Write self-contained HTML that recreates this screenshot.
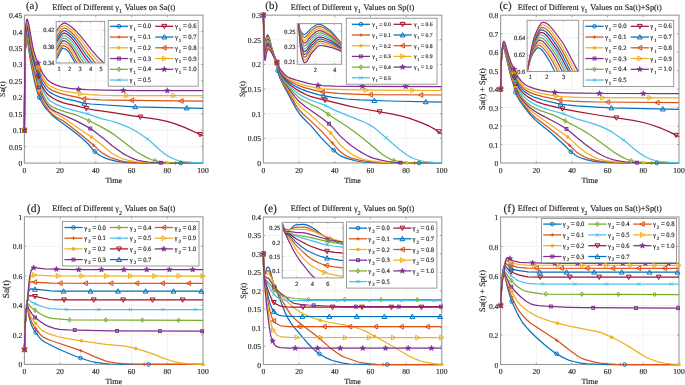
<!DOCTYPE html>
<html><head><meta charset="utf-8"><style>
html,body{margin:0;padding:0;background:#fff;}
svg{display:block;will-change:transform;}
svg text{text-rendering:geometricPrecision;stroke:#262626;stroke-width:0.15px;}
</style></head><body>
<svg width="685" height="385" viewBox="0 0 685 385" font-family='"Liberation Serif", serif' fill="#262626" stroke-width="0">
<rect width="685" height="385" fill="#fff"/>
<line x1="60.12" y1="15.15" x2="60.12" y2="163.1" stroke="#efefef" stroke-width="0.8"/>
<line x1="95.84" y1="15.15" x2="95.84" y2="163.1" stroke="#efefef" stroke-width="0.8"/>
<line x1="131.56" y1="15.15" x2="131.56" y2="163.1" stroke="#efefef" stroke-width="0.8"/>
<line x1="167.28" y1="15.15" x2="167.28" y2="163.1" stroke="#efefef" stroke-width="0.8"/>
<line x1="24.4" y1="146.66" x2="203" y2="146.66" stroke="#efefef" stroke-width="0.8"/>
<line x1="24.4" y1="130.22" x2="203" y2="130.22" stroke="#efefef" stroke-width="0.8"/>
<line x1="24.4" y1="113.78" x2="203" y2="113.78" stroke="#efefef" stroke-width="0.8"/>
<line x1="24.4" y1="97.34" x2="203" y2="97.34" stroke="#efefef" stroke-width="0.8"/>
<line x1="24.4" y1="80.91" x2="203" y2="80.91" stroke="#efefef" stroke-width="0.8"/>
<line x1="24.4" y1="64.47" x2="203" y2="64.47" stroke="#efefef" stroke-width="0.8"/>
<line x1="24.4" y1="48.03" x2="203" y2="48.03" stroke="#efefef" stroke-width="0.8"/>
<line x1="24.4" y1="31.59" x2="203" y2="31.59" stroke="#efefef" stroke-width="0.8"/>
<line x1="299.03" y1="15.15" x2="299.03" y2="163" stroke="#efefef" stroke-width="0.8"/>
<line x1="334.71" y1="15.15" x2="334.71" y2="163" stroke="#efefef" stroke-width="0.8"/>
<line x1="370.39" y1="15.15" x2="370.39" y2="163" stroke="#efefef" stroke-width="0.8"/>
<line x1="406.07" y1="15.15" x2="406.07" y2="163" stroke="#efefef" stroke-width="0.8"/>
<line x1="263.35" y1="138.36" x2="441.75" y2="138.36" stroke="#efefef" stroke-width="0.8"/>
<line x1="263.35" y1="113.72" x2="441.75" y2="113.72" stroke="#efefef" stroke-width="0.8"/>
<line x1="263.35" y1="89.07" x2="441.75" y2="89.07" stroke="#efefef" stroke-width="0.8"/>
<line x1="263.35" y1="64.43" x2="441.75" y2="64.43" stroke="#efefef" stroke-width="0.8"/>
<line x1="263.35" y1="39.79" x2="441.75" y2="39.79" stroke="#efefef" stroke-width="0.8"/>
<line x1="536.28" y1="15.2" x2="536.28" y2="163" stroke="#efefef" stroke-width="0.8"/>
<line x1="571.96" y1="15.2" x2="571.96" y2="163" stroke="#efefef" stroke-width="0.8"/>
<line x1="607.64" y1="15.2" x2="607.64" y2="163" stroke="#efefef" stroke-width="0.8"/>
<line x1="643.32" y1="15.2" x2="643.32" y2="163" stroke="#efefef" stroke-width="0.8"/>
<line x1="500.6" y1="144.53" x2="679" y2="144.53" stroke="#efefef" stroke-width="0.8"/>
<line x1="500.6" y1="126.05" x2="679" y2="126.05" stroke="#efefef" stroke-width="0.8"/>
<line x1="500.6" y1="107.57" x2="679" y2="107.57" stroke="#efefef" stroke-width="0.8"/>
<line x1="500.6" y1="89.1" x2="679" y2="89.1" stroke="#efefef" stroke-width="0.8"/>
<line x1="500.6" y1="70.62" x2="679" y2="70.62" stroke="#efefef" stroke-width="0.8"/>
<line x1="500.6" y1="52.15" x2="679" y2="52.15" stroke="#efefef" stroke-width="0.8"/>
<line x1="500.6" y1="33.67" x2="679" y2="33.67" stroke="#efefef" stroke-width="0.8"/>
<line x1="60.12" y1="216.8" x2="60.12" y2="364.4" stroke="#efefef" stroke-width="0.8"/>
<line x1="95.84" y1="216.8" x2="95.84" y2="364.4" stroke="#efefef" stroke-width="0.8"/>
<line x1="131.56" y1="216.8" x2="131.56" y2="364.4" stroke="#efefef" stroke-width="0.8"/>
<line x1="167.28" y1="216.8" x2="167.28" y2="364.4" stroke="#efefef" stroke-width="0.8"/>
<line x1="24.4" y1="334.88" x2="203" y2="334.88" stroke="#efefef" stroke-width="0.8"/>
<line x1="24.4" y1="305.36" x2="203" y2="305.36" stroke="#efefef" stroke-width="0.8"/>
<line x1="24.4" y1="275.84" x2="203" y2="275.84" stroke="#efefef" stroke-width="0.8"/>
<line x1="24.4" y1="246.32" x2="203" y2="246.32" stroke="#efefef" stroke-width="0.8"/>
<line x1="299.03" y1="217" x2="299.03" y2="364.5" stroke="#efefef" stroke-width="0.8"/>
<line x1="334.71" y1="217" x2="334.71" y2="364.5" stroke="#efefef" stroke-width="0.8"/>
<line x1="370.39" y1="217" x2="370.39" y2="364.5" stroke="#efefef" stroke-width="0.8"/>
<line x1="406.07" y1="217" x2="406.07" y2="364.5" stroke="#efefef" stroke-width="0.8"/>
<line x1="263.35" y1="346.06" x2="441.75" y2="346.06" stroke="#efefef" stroke-width="0.8"/>
<line x1="263.35" y1="327.62" x2="441.75" y2="327.62" stroke="#efefef" stroke-width="0.8"/>
<line x1="263.35" y1="309.19" x2="441.75" y2="309.19" stroke="#efefef" stroke-width="0.8"/>
<line x1="263.35" y1="290.75" x2="441.75" y2="290.75" stroke="#efefef" stroke-width="0.8"/>
<line x1="263.35" y1="272.31" x2="441.75" y2="272.31" stroke="#efefef" stroke-width="0.8"/>
<line x1="263.35" y1="253.88" x2="441.75" y2="253.88" stroke="#efefef" stroke-width="0.8"/>
<line x1="263.35" y1="235.44" x2="441.75" y2="235.44" stroke="#efefef" stroke-width="0.8"/>
<line x1="536.28" y1="217" x2="536.28" y2="364.5" stroke="#efefef" stroke-width="0.8"/>
<line x1="571.96" y1="217" x2="571.96" y2="364.5" stroke="#efefef" stroke-width="0.8"/>
<line x1="607.64" y1="217" x2="607.64" y2="364.5" stroke="#efefef" stroke-width="0.8"/>
<line x1="643.32" y1="217" x2="643.32" y2="364.5" stroke="#efefef" stroke-width="0.8"/>
<line x1="500.6" y1="335" x2="679" y2="335" stroke="#efefef" stroke-width="0.8"/>
<line x1="500.6" y1="305.5" x2="679" y2="305.5" stroke="#efefef" stroke-width="0.8"/>
<line x1="500.6" y1="276" x2="679" y2="276" stroke="#efefef" stroke-width="0.8"/>
<line x1="500.6" y1="246.5" x2="679" y2="246.5" stroke="#efefef" stroke-width="0.8"/>
<rect x="24.4" y="15.15" width="178.6" height="147.95" fill="none" stroke="#9a9a9a" stroke-width="1.1"/>
<path d="M60.12 163.1v-1.8M60.12 15.15v1.8M95.84 163.1v-1.8M95.84 15.15v1.8M131.56 163.1v-1.8M131.56 15.15v1.8M167.28 163.1v-1.8M167.28 15.15v1.8M24.4 146.66h1.8M203 146.66h-1.8M24.4 130.22h1.8M203 130.22h-1.8M24.4 113.78h1.8M203 113.78h-1.8M24.4 97.34h1.8M203 97.34h-1.8M24.4 80.91h1.8M203 80.91h-1.8M24.4 64.47h1.8M203 64.47h-1.8M24.4 48.03h1.8M203 48.03h-1.8M24.4 31.59h1.8M203 31.59h-1.8" stroke="#9a9a9a" stroke-width="0.9" fill="none"/>
<text x="24.4" y="172.6" font-size="7.6" text-anchor="middle">0</text>
<text x="60.12" y="172.6" font-size="7.6" text-anchor="middle">20</text>
<text x="95.84" y="172.6" font-size="7.6" text-anchor="middle">40</text>
<text x="131.56" y="172.6" font-size="7.6" text-anchor="middle">60</text>
<text x="167.28" y="172.6" font-size="7.6" text-anchor="middle">80</text>
<text x="203" y="172.6" font-size="7.6" text-anchor="middle">100</text>
<text x="22.2" y="166.1" font-size="7.6" text-anchor="end">0</text>
<text x="22.2" y="149.66" font-size="7.6" text-anchor="end">0.05</text>
<text x="22.2" y="133.22" font-size="7.6" text-anchor="end">0.1</text>
<text x="22.2" y="116.78" font-size="7.6" text-anchor="end">0.15</text>
<text x="22.2" y="100.34" font-size="7.6" text-anchor="end">0.2</text>
<text x="22.2" y="83.91" font-size="7.6" text-anchor="end">0.25</text>
<text x="22.2" y="67.47" font-size="7.6" text-anchor="end">0.3</text>
<text x="22.2" y="51.03" font-size="7.6" text-anchor="end">0.35</text>
<text x="22.2" y="34.59" font-size="7.6" text-anchor="end">0.4</text>
<text x="22.2" y="18.15" font-size="7.6" text-anchor="end">0.45</text>
<text x="113.7" y="182.7" font-size="8" text-anchor="middle">Time</text>
<text transform="translate(5.4 89.12) rotate(-90)" font-size="8.0" text-anchor="middle">Sa(t)</text>
<text x="113.7" y="9.55" font-size="8.25" text-anchor="middle">Effect of Different &#947;<tspan font-size="5.8" dy="3.4">1</tspan><tspan dx="0.8" dy="-3.4"> Values on Sa(t)</tspan></text>
<text x="26" y="8.75" font-size="10.8">(a)</text>
<rect x="263.35" y="15.15" width="178.4" height="147.85" fill="none" stroke="#9a9a9a" stroke-width="1.1"/>
<path d="M299.03 163v-1.8M299.03 15.15v1.8M334.71 163v-1.8M334.71 15.15v1.8M370.39 163v-1.8M370.39 15.15v1.8M406.07 163v-1.8M406.07 15.15v1.8M263.35 138.36h1.8M441.75 138.36h-1.8M263.35 113.72h1.8M441.75 113.72h-1.8M263.35 89.07h1.8M441.75 89.07h-1.8M263.35 64.43h1.8M441.75 64.43h-1.8M263.35 39.79h1.8M441.75 39.79h-1.8" stroke="#9a9a9a" stroke-width="0.9" fill="none"/>
<text x="263.35" y="172.5" font-size="7.6" text-anchor="middle">0</text>
<text x="299.03" y="172.5" font-size="7.6" text-anchor="middle">20</text>
<text x="334.71" y="172.5" font-size="7.6" text-anchor="middle">40</text>
<text x="370.39" y="172.5" font-size="7.6" text-anchor="middle">60</text>
<text x="406.07" y="172.5" font-size="7.6" text-anchor="middle">80</text>
<text x="441.75" y="172.5" font-size="7.6" text-anchor="middle">100</text>
<text x="261.15" y="166" font-size="7.6" text-anchor="end">0</text>
<text x="261.15" y="141.36" font-size="7.6" text-anchor="end">0.05</text>
<text x="261.15" y="116.72" font-size="7.6" text-anchor="end">0.1</text>
<text x="261.15" y="92.07" font-size="7.6" text-anchor="end">0.15</text>
<text x="261.15" y="67.43" font-size="7.6" text-anchor="end">0.2</text>
<text x="261.15" y="42.79" font-size="7.6" text-anchor="end">0.25</text>
<text x="261.15" y="18.15" font-size="7.6" text-anchor="end">0.3</text>
<text x="352.55" y="182.6" font-size="8" text-anchor="middle">Time</text>
<text transform="translate(244.75 89.08) rotate(-90)" font-size="8.0" text-anchor="middle">Sp(t)</text>
<text x="352.55" y="9.55" font-size="8.25" text-anchor="middle">Effect of Different &#947;<tspan font-size="5.8" dy="3.4">1</tspan><tspan dx="0.8" dy="-3.4"> Values on Sp(t)</tspan></text>
<text x="265.3" y="8.75" font-size="10.8">(b)</text>
<rect x="500.6" y="15.2" width="178.4" height="147.8" fill="none" stroke="#9a9a9a" stroke-width="1.1"/>
<path d="M536.28 163v-1.8M536.28 15.2v1.8M571.96 163v-1.8M571.96 15.2v1.8M607.64 163v-1.8M607.64 15.2v1.8M643.32 163v-1.8M643.32 15.2v1.8M500.6 144.53h1.8M679 144.53h-1.8M500.6 126.05h1.8M679 126.05h-1.8M500.6 107.57h1.8M679 107.57h-1.8M500.6 89.1h1.8M679 89.1h-1.8M500.6 70.62h1.8M679 70.62h-1.8M500.6 52.15h1.8M679 52.15h-1.8M500.6 33.67h1.8M679 33.67h-1.8" stroke="#9a9a9a" stroke-width="0.9" fill="none"/>
<text x="500.6" y="172.5" font-size="7.6" text-anchor="middle">0</text>
<text x="536.28" y="172.5" font-size="7.6" text-anchor="middle">20</text>
<text x="571.96" y="172.5" font-size="7.6" text-anchor="middle">40</text>
<text x="607.64" y="172.5" font-size="7.6" text-anchor="middle">60</text>
<text x="643.32" y="172.5" font-size="7.6" text-anchor="middle">80</text>
<text x="679" y="172.5" font-size="7.6" text-anchor="middle">100</text>
<text x="498.4" y="166" font-size="7.6" text-anchor="end">0</text>
<text x="498.4" y="147.53" font-size="7.6" text-anchor="end">0.1</text>
<text x="498.4" y="129.05" font-size="7.6" text-anchor="end">0.2</text>
<text x="498.4" y="110.57" font-size="7.6" text-anchor="end">0.3</text>
<text x="498.4" y="92.1" font-size="7.6" text-anchor="end">0.4</text>
<text x="498.4" y="73.62" font-size="7.6" text-anchor="end">0.5</text>
<text x="498.4" y="55.15" font-size="7.6" text-anchor="end">0.6</text>
<text x="498.4" y="36.67" font-size="7.6" text-anchor="end">0.7</text>
<text x="498.4" y="18.2" font-size="7.6" text-anchor="end">0.8</text>
<text x="589.8" y="182.6" font-size="8" text-anchor="middle">Time</text>
<text transform="translate(484.6 89.1) rotate(-90)" font-size="8.4" text-anchor="middle">Sa(t) + Sp(t)</text>
<text x="589.8" y="9.6" font-size="8.25" text-anchor="middle">Effect of Different &#947;<tspan font-size="5.8" dy="3.4">1</tspan><tspan dx="0.8" dy="-3.4"> Values on Sa(t)+Sp(t)</tspan></text>
<text x="499.5" y="8.8" font-size="10.8">(c)</text>
<rect x="24.4" y="216.8" width="178.6" height="147.6" fill="none" stroke="#9a9a9a" stroke-width="1.1"/>
<path d="M60.12 364.4v-1.8M60.12 216.8v1.8M95.84 364.4v-1.8M95.84 216.8v1.8M131.56 364.4v-1.8M131.56 216.8v1.8M167.28 364.4v-1.8M167.28 216.8v1.8M24.4 334.88h1.8M203 334.88h-1.8M24.4 305.36h1.8M203 305.36h-1.8M24.4 275.84h1.8M203 275.84h-1.8M24.4 246.32h1.8M203 246.32h-1.8" stroke="#9a9a9a" stroke-width="0.9" fill="none"/>
<text x="24.4" y="373.9" font-size="7.6" text-anchor="middle">0</text>
<text x="60.12" y="373.9" font-size="7.6" text-anchor="middle">20</text>
<text x="95.84" y="373.9" font-size="7.6" text-anchor="middle">40</text>
<text x="131.56" y="373.9" font-size="7.6" text-anchor="middle">60</text>
<text x="167.28" y="373.9" font-size="7.6" text-anchor="middle">80</text>
<text x="203" y="373.9" font-size="7.6" text-anchor="middle">100</text>
<text x="22.2" y="367.4" font-size="7.6" text-anchor="end">0</text>
<text x="22.2" y="337.88" font-size="7.6" text-anchor="end">0.2</text>
<text x="22.2" y="308.36" font-size="7.6" text-anchor="end">0.4</text>
<text x="22.2" y="278.84" font-size="7.6" text-anchor="end">0.6</text>
<text x="22.2" y="249.32" font-size="7.6" text-anchor="end">0.8</text>
<text x="22.2" y="219.8" font-size="7.6" text-anchor="end">1</text>
<text x="113.7" y="384" font-size="8" text-anchor="middle">Time</text>
<text transform="translate(9.4 289.2) rotate(-90)" font-size="9.3" text-anchor="middle">Sa(t)</text>
<text x="113.7" y="211.2" font-size="8.25" text-anchor="middle">Effect of Different &#947;<tspan font-size="5.8" dy="3.4">2</tspan><tspan dx="0.8" dy="-3.4"> Values on Sa(t)</tspan></text>
<text x="27" y="211.9" font-size="11.5">(d)</text>
<rect x="263.35" y="217" width="178.4" height="147.5" fill="none" stroke="#9a9a9a" stroke-width="1.1"/>
<path d="M299.03 364.5v-1.8M299.03 217v1.8M334.71 364.5v-1.8M334.71 217v1.8M370.39 364.5v-1.8M370.39 217v1.8M406.07 364.5v-1.8M406.07 217v1.8M263.35 346.06h1.8M441.75 346.06h-1.8M263.35 327.62h1.8M441.75 327.62h-1.8M263.35 309.19h1.8M441.75 309.19h-1.8M263.35 290.75h1.8M441.75 290.75h-1.8M263.35 272.31h1.8M441.75 272.31h-1.8M263.35 253.88h1.8M441.75 253.88h-1.8M263.35 235.44h1.8M441.75 235.44h-1.8" stroke="#9a9a9a" stroke-width="0.9" fill="none"/>
<text x="263.35" y="374" font-size="7.6" text-anchor="middle">0</text>
<text x="299.03" y="374" font-size="7.6" text-anchor="middle">20</text>
<text x="334.71" y="374" font-size="7.6" text-anchor="middle">40</text>
<text x="370.39" y="374" font-size="7.6" text-anchor="middle">60</text>
<text x="406.07" y="374" font-size="7.6" text-anchor="middle">80</text>
<text x="441.75" y="374" font-size="7.6" text-anchor="middle">100</text>
<text x="261.15" y="367.5" font-size="7.6" text-anchor="end">0</text>
<text x="261.15" y="349.06" font-size="7.6" text-anchor="end">0.05</text>
<text x="261.15" y="330.62" font-size="7.6" text-anchor="end">0.1</text>
<text x="261.15" y="312.19" font-size="7.6" text-anchor="end">0.15</text>
<text x="261.15" y="293.75" font-size="7.6" text-anchor="end">0.2</text>
<text x="261.15" y="275.31" font-size="7.6" text-anchor="end">0.25</text>
<text x="261.15" y="256.88" font-size="7.6" text-anchor="end">0.3</text>
<text x="261.15" y="238.44" font-size="7.6" text-anchor="end">0.35</text>
<text x="261.15" y="220" font-size="7.6" text-anchor="end">0.4</text>
<text x="352.55" y="384.1" font-size="8" text-anchor="middle">Time</text>
<text transform="translate(245.75 290.75) rotate(-90)" font-size="8.0" text-anchor="middle">Sp(t)</text>
<text x="352.55" y="211.4" font-size="8.25" text-anchor="middle">Effect of Different &#947;<tspan font-size="5.8" dy="3.4">2</tspan><tspan dx="0.8" dy="-3.4"> Values on Sp(t)</tspan></text>
<text x="264.2" y="212.1" font-size="11.5">(e)</text>
<rect x="500.6" y="217" width="178.4" height="147.5" fill="none" stroke="#9a9a9a" stroke-width="1.1"/>
<path d="M536.28 364.5v-1.8M536.28 217v1.8M571.96 364.5v-1.8M571.96 217v1.8M607.64 364.5v-1.8M607.64 217v1.8M643.32 364.5v-1.8M643.32 217v1.8M500.6 335h1.8M679 335h-1.8M500.6 305.5h1.8M679 305.5h-1.8M500.6 276h1.8M679 276h-1.8M500.6 246.5h1.8M679 246.5h-1.8" stroke="#9a9a9a" stroke-width="0.9" fill="none"/>
<text x="500.6" y="374" font-size="7.6" text-anchor="middle">0</text>
<text x="536.28" y="374" font-size="7.6" text-anchor="middle">20</text>
<text x="571.96" y="374" font-size="7.6" text-anchor="middle">40</text>
<text x="607.64" y="374" font-size="7.6" text-anchor="middle">60</text>
<text x="643.32" y="374" font-size="7.6" text-anchor="middle">80</text>
<text x="679" y="374" font-size="7.6" text-anchor="middle">100</text>
<text x="498.4" y="367.5" font-size="7.6" text-anchor="end">0</text>
<text x="498.4" y="338" font-size="7.6" text-anchor="end">0.2</text>
<text x="498.4" y="308.5" font-size="7.6" text-anchor="end">0.4</text>
<text x="498.4" y="279" font-size="7.6" text-anchor="end">0.6</text>
<text x="498.4" y="249.5" font-size="7.6" text-anchor="end">0.8</text>
<text x="498.4" y="220" font-size="7.6" text-anchor="end">1</text>
<text x="589.8" y="384.1" font-size="8" text-anchor="middle">Time</text>
<text transform="translate(485.2 291.05) rotate(-90)" font-size="8.4" text-anchor="middle">Sa(t) + Sp(t)</text>
<text x="589.8" y="211.4" font-size="8.25" text-anchor="middle">Effect of Different &#947;<tspan font-size="5.8" dy="3.4">2</tspan><tspan dx="0.8" dy="-3.4"> Values on Sa(t)+Sp(t)</tspan></text>
<text x="503.5" y="212.1" font-size="11.5">(f)</text>
<path d="M24.4 130.2L24.7 81.1L25.1 53L25.2 50.2L25.9 47.6L26.6 40.8L26.9 39.6L27.3 40.2L27.8 42.1L28.9 51L30.9 63.1L33.3 75.6L35.5 85.5L37.1 91.4L38.6 95.9L40.5 100L42.8 104L44.8 107L47.1 109.9L53 116L56.4 118.7L72.8 130.7L79.9 136.4L84.6 140.5L88.7 144.5L94.4 151.3L98.5 154.6L100.8 156L103.2 157.2L106.6 158.6L109.8 159.7L117.1 161.3L124.6 162.3L133.3 162.8L141.7 163L203 163.1" fill="none" stroke="#0072BD" stroke-width="1.25" stroke-linejoin="round"/>
<path d="M24.4 130.2L24.7 80L25.1 50.7L25.3 47.9L25.8 45.4L26.6 38.8L26.9 37.5L27.3 38.3L27.9 40.4L29.2 50.9L31.9 66.4L34 76.5L36 84.6L37.6 90L39.1 94L42.2 100.2L45.3 105.6L49.2 110.9L51.4 113.2L53.5 115.1L56.4 117.2L63 120.8L70.7 126.4L87.6 140.1L93.9 145.4L99.1 150.4L101.6 152.5L107.1 155.9L112.1 158.2L120 160.6L123.2 161.4L126.2 161.8L136.2 162.6L146.2 162.9L163.7 163.1L203 163.1" fill="none" stroke="#D95319" stroke-width="1.25" stroke-linejoin="round"/>
<path d="M24.4 130.2L24.7 78.8L25.1 49L25.3 45.7L25.9 42.9L26.6 36.5L26.9 35.5L27.4 36.2L28 38.6L29.6 50.9L33 68.7L35.5 79.7L37.9 87.8L39.1 90.8L41.5 95.7L43.5 99.5L45.7 103L47.8 106L49.9 108.5L52.3 110.9L54.4 112.6L56.5 114L63.7 118.1L76.2 126.8L91.2 136.8L102.1 145L109.1 151.1L111.9 153.3L118.2 156.8L123.5 159.1L128.7 160.4L134.8 161.5L138.9 162L148.3 162.6L165.5 163L203 163.1" fill="none" stroke="#EDB120" stroke-width="1.25" stroke-linejoin="round"/>
<path d="M24.4 130.2L24.7 77.7L25.1 47.3L25.4 43.5L26.6 34.6L27 33.4L27.4 34.3L28.1 36.8L29.8 50.6L32.2 62.5L35 74.2L38.2 85.1L41.1 93.5L43.5 98.8L45.7 102.5L47.6 105.4L49.2 107.2L51.2 108.9L53.5 110.4L56 111.8L75.7 120.6L82.4 124.1L88.3 127.4L92.6 130.1L97.4 133.7L103.3 138.2L111.9 145.4L121.6 152.6L124.4 154.4L127.1 155.8L131.4 157.9L135 159.3L138.3 160.3L143.2 161.3L148.2 162L152.6 162.4L171.6 163.1L203 163.1" fill="none" stroke="#7E2F8E" stroke-width="1.25" stroke-linejoin="round"/>
<path d="M24.4 130.2L24.7 76.6L25.1 45.6L25.4 41.2L26.6 32.7L27 31.4L27.5 32.4L28.2 35.2L30.2 49.8L31.8 57.9L34.3 68.7L37.2 78.8L40.5 88.6L43 94.8L46.9 101.8L48.5 103.9L49.9 105.3L53.3 107.4L57.3 109.1L65.3 111.9L75.1 114.7L79.8 116.5L91.6 122L100.7 126.6L108.7 131.1L114.6 134.9L133.9 149.8L137.3 152.2L145.7 157.1L151 159.5L153.9 160.4L157.5 161.1L163 161.8L168.9 162.3L184.4 163L203 163.1" fill="none" stroke="#77AC30" stroke-width="1.25" stroke-linejoin="round"/>
<path d="M24.4 130.2L24.7 75.5L25.1 43.9L25.5 38.7L26.6 30.8L27 29.3L27.5 30.4L28.3 33.6L30.5 49.2L31.9 55.8L34.4 66.6L37.3 76.2L40.3 84.8L43 90.8L47.1 97.5L48.7 99.5L50.3 101L53 102.8L56 104.4L64.6 107.8L72.8 110.2L87.6 113.8L101.2 118.7L111.2 121L115 122.1L122.1 124.6L129.4 127.7L133.3 129.7L137.6 132.2L146.9 138.6L150.3 141.3L157.8 148.2L166.2 155L168.9 156.6L175 159.5L179.1 160.8L183.5 161.5L192.5 162.3L203 162.8" fill="none" stroke="#4DBEEE" stroke-width="1.25" stroke-linejoin="round"/>
<path d="M24.4 130.2L24.7 74.4L25.1 42.2L25.5 36.4L26.6 28.8L27 27.3L27.6 28.3L28.4 31.8L30.9 48.9L32.6 56.8L35.7 68.1L39.6 79.9L42.4 86.8L44.9 90.9L46.7 93.2L48.5 95L52.6 98L57.8 100.7L63.5 102.9L67.4 103.9L76.6 105.9L86.4 108.5L93.5 109.8L111.4 112.4L129.6 115.4L157.6 119.4L167.1 121.3L174.6 123.6L185.1 127.6L203 135.8" fill="none" stroke="#A2142F" stroke-width="1.25" stroke-linejoin="round"/>
<path d="M24.4 130.2L24.7 73.3L25.1 40.5L25.5 33.8L26.5 26.9L27.1 25.2L27.6 26.3L28.5 29.9L31.3 48.4L32.9 55.5L36 66.5L40.3 78.3L43 84.2L44.8 86.9L46.5 89.2L48.2 90.9L49.6 92.1L52.1 93.6L54.8 95L59.8 97.1L65.8 98.9L76.4 101.2L83.2 103.1L90.7 104L134.2 106.8L203 108.4" fill="none" stroke="#0072BD" stroke-width="1.25" stroke-linejoin="round"/>
<path d="M24.4 130.2L24.7 72.2L25.1 38.1L25.6 31.1L26.5 24.9L27.1 23.2L27.4 23.6L28 25.3L28.7 28.5L31.5 46.8L32.8 52.8L35.6 62.5L39.8 74L42.8 80.5L46.4 85.6L48 87.4L49.4 88.6L54 91.2L59.4 93.1L66.9 95.2L76.7 97.2L82.4 98.6L89.6 99.2L100.3 99.8L112.6 100.1L174.6 100.9L203 101.1" fill="none" stroke="#D95319" stroke-width="1.25" stroke-linejoin="round"/>
<path d="M24.4 130.2L24.7 71.1L25.1 36.4L25.7 28.6L26.5 22.8L27.1 21.1L27.4 21.6L28 23.4L28.9 27L31.9 45.8L33.2 51.6L35.8 60.3L40.5 72.3L43.2 77.8L45.3 81L47.3 83.5L48.7 84.9L49.9 85.8L52.6 87.3L55.3 88.6L59.2 90L63.5 91.1L79.9 93.7L89.8 94.6L99.4 95.2L112.1 95.5L203 95.5" fill="none" stroke="#EDB120" stroke-width="1.25" stroke-linejoin="round"/>
<path d="M24.4 130.2L24.7 70L25.1 34.6L25.7 25.9L26.5 20.7L26.8 19.5L27.1 19.1L27.5 19.6L28.1 21.6L29 25.4L32.4 44.8L33.7 50.9L36 57.9L40.3 68.4L43.2 74.1L45.5 77.4L47.4 79.8L50.1 82L53 83.6L55.8 84.9L61.5 86.8L69.8 88.3L76.6 89.2L86.4 89.7L104.6 90.2L137.5 90.6L203 90.7" fill="none" stroke="#7E2F8E" stroke-width="1.25" stroke-linejoin="round"/>
<circle cx="24.4" cy="130.22" r="1.85" fill="none" stroke="#0072BD" stroke-width="1.0"/>
<circle cx="39.3" cy="97.51" r="1.85" fill="none" stroke="#0072BD" stroke-width="1.0"/>
<circle cx="94.77" cy="151.59" r="1.85" fill="none" stroke="#0072BD" stroke-width="1.0"/>
<circle cx="180.68" cy="163.1" r="1.85" fill="none" stroke="#0072BD" stroke-width="1.0"/>
<path d="M22.72 130.22H26.08M24.4 128.54V131.9" stroke="#D95319" stroke-width="1.0" fill="none"/>
<path d="M37.49 94.06H40.85M39.17 92.38V95.74" stroke="#D95319" stroke-width="1.0" fill="none"/>
<path d="M91.84 145.12H95.2M93.52 143.44V146.8" stroke="#D95319" stroke-width="1.0" fill="none"/>
<path d="M173.64 163.1H177M175.32 161.42V164.78" stroke="#D95319" stroke-width="1.0" fill="none"/>
<circle cx="24.4" cy="130.22" r="1.78" fill="#EDB120"/>
<circle cx="39.06" cy="90.66" r="1.78" fill="#EDB120"/>
<circle cx="91.55" cy="137.09" r="1.78" fill="#EDB120"/>
<circle cx="167.64" cy="163.03" r="1.78" fill="#EDB120"/>
<rect x="22.97" y="128.79" width="2.86" height="2.86" fill="none" stroke="#7E2F8E" stroke-width="1.0"/>
<rect x="37.51" y="85.79" width="2.86" height="2.86" fill="none" stroke="#7E2F8E" stroke-width="1.0"/>
<rect x="88.88" y="127.18" width="2.86" height="2.86" fill="none" stroke="#7E2F8E" stroke-width="1.0"/>
<rect x="159.6" y="161.37" width="2.86" height="2.86" fill="none" stroke="#7E2F8E" stroke-width="1.0"/>
<path d="M24.4 127.91L26.08 130.22L24.4 132.53L22.72 130.22Z" fill="none" stroke="#77AC30" stroke-width="1.0"/>
<path d="M38.81 81.46L40.49 83.77L38.81 86.08L37.13 83.77Z" fill="none" stroke="#77AC30" stroke-width="1.0"/>
<path d="M89.05 118.48L90.73 120.79L89.05 123.1L87.37 120.79Z" fill="none" stroke="#77AC30" stroke-width="1.0"/>
<path d="M155.14 158.39L156.82 160.7L155.14 163.01L153.46 160.7Z" fill="none" stroke="#77AC30" stroke-width="1.0"/>
<path d="M22.82 128.65L25.97 131.8M22.82 131.8L25.97 128.65" stroke="#4DBEEE" stroke-width="1.0" fill="none"/>
<path d="M37.11 78.75L40.26 81.9M37.11 81.9L40.26 78.75" stroke="#4DBEEE" stroke-width="1.0" fill="none"/>
<path d="M86.05 112.21L89.2 115.36M86.05 115.36L89.2 112.21" stroke="#4DBEEE" stroke-width="1.0" fill="none"/>
<path d="M145.88 137.43L149.03 140.58M145.88 140.58L149.03 137.43" stroke="#4DBEEE" stroke-width="1.0" fill="none"/>
<path d="M21.98 128.29L26.81 128.29L24.4 132.64Z" fill="none" stroke="#A2142F" stroke-width="1.0"/>
<path d="M36.17 74.99L41 74.99L38.58 79.34Z" fill="none" stroke="#A2142F" stroke-width="1.0"/>
<path d="M83.96 106.59L88.79 106.59L86.37 110.94Z" fill="none" stroke="#A2142F" stroke-width="1.0"/>
<path d="M137.9 115.07L142.73 115.07L140.31 119.42Z" fill="none" stroke="#A2142F" stroke-width="1.0"/>
<path d="M197.55 132.56L202.38 132.56L199.96 136.91Z" fill="none" stroke="#A2142F" stroke-width="1.0"/>
<path d="M21.98 132.15L26.81 132.15L24.4 127.81Z" fill="none" stroke="#0072BD" stroke-width="1.0"/>
<path d="M36.04 75.41L40.87 75.41L38.46 71.06Z" fill="none" stroke="#0072BD" stroke-width="1.0"/>
<path d="M81.99 105.23L86.82 105.23L84.41 100.88Z" fill="none" stroke="#0072BD" stroke-width="1.0"/>
<path d="M132.9 108.75L137.73 108.75L135.31 104.4Z" fill="none" stroke="#0072BD" stroke-width="1.0"/>
<path d="M184.33 109.83L189.16 109.83L186.75 105.48Z" fill="none" stroke="#0072BD" stroke-width="1.0"/>
<path d="M26.33 127.81L26.33 132.64L21.98 130.22Z" fill="none" stroke="#D95319" stroke-width="1.0"/>
<path d="M40.26 67.62L40.26 72.45L35.92 70.03Z" fill="none" stroke="#D95319" stroke-width="1.0"/>
<path d="M85.81 96.38L85.81 101.21L81.46 98.79Z" fill="none" stroke="#D95319" stroke-width="1.0"/>
<path d="M133.67 97.89L133.67 102.72L129.32 100.3Z" fill="none" stroke="#D95319" stroke-width="1.0"/>
<path d="M183.14 98.58L183.14 103.41L178.8 100.99Z" fill="none" stroke="#D95319" stroke-width="1.0"/>
<path d="M22.47 127.81L22.47 132.64L26.81 130.22Z" fill="none" stroke="#EDB120" stroke-width="1.0"/>
<path d="M36.29 64.22L36.29 69.05L40.64 66.63Z" fill="none" stroke="#EDB120" stroke-width="1.0"/>
<path d="M78.55 91.38L78.55 96.21L82.9 93.79Z" fill="none" stroke="#EDB120" stroke-width="1.0"/>
<path d="M124.63 93.09L124.63 97.92L128.97 95.5Z" fill="none" stroke="#EDB120" stroke-width="1.0"/>
<path d="M171.78 93.09L171.78 97.92L176.12 95.5Z" fill="none" stroke="#EDB120" stroke-width="1.0"/>
<path d="M24.4 127.28L25.13 129.22L27.2 129.31L25.57 130.6L26.13 132.6L24.4 131.46L22.67 132.6L23.23 130.6L21.6 129.31L23.67 129.22Z" fill="#7E2F8E" stroke="#7E2F8E" stroke-width="0.5"/>
<path d="M38.1 60.24L38.82 62.19L40.89 62.28L39.27 63.57L39.83 65.56L38.1 64.42L36.37 65.56L36.92 63.57L35.3 62.28L37.37 62.19Z" fill="#7E2F8E" stroke="#7E2F8E" stroke-width="0.5"/>
<path d="M78.52 86.35L79.24 88.29L81.31 88.38L79.69 89.67L80.24 91.67L78.52 90.52L76.79 91.67L77.34 89.67L75.72 88.38L77.79 88.29Z" fill="#7E2F8E" stroke="#7E2F8E" stroke-width="0.5"/>
<path d="M123.34 87.53L124.07 89.47L126.14 89.56L124.52 90.85L125.07 92.85L123.34 91.71L121.62 92.85L122.17 90.85L120.55 89.56L122.62 89.47Z" fill="#7E2F8E" stroke="#7E2F8E" stroke-width="0.5"/>
<path d="M167.28 87.76L168.01 89.7L170.08 89.79L168.45 91.08L169.01 93.08L167.28 91.94L165.55 93.08L166.11 91.08L164.48 89.79L166.55 89.7Z" fill="#7E2F8E" stroke="#7E2F8E" stroke-width="0.5"/>
<path d="M263.4 15.2L263.8 34.1L264.1 38.5L264.6 41.4L264.8 41.8L265.1 41.4L266.1 37.8L267.3 35.1L267.5 35L267.9 35.1L268.7 36.5L269.9 39.9L271.6 47.1L273.4 53L276.5 61.3L276.9 63.6L277.7 70.8L278.6 74.7L280 78.3L283.3 85.3L288.1 93.7L295.6 107.9L297.8 111.4L299.7 114.1L303.1 118L311.3 126.1L320.4 136.9L325.1 141.9L330.8 147.6L337.9 154L341.1 156.2L346.7 158.4L356.5 161L362.5 162L373.6 162.6L384.7 162.9L441.8 163" fill="none" stroke="#0072BD" stroke-width="1.25" stroke-linejoin="round"/>
<path d="M263.4 15.2L263.8 34.9L264.2 40.2L264.7 43.3L264.9 43.6L265.1 43.2L266.1 39.4L267.3 36.6L267.5 36.4L267.9 36.5L268.7 37.8L269.9 40.9L271.6 47.6L273.5 53.7L276.6 61.7L277.8 68.4L279.8 76.1L281.1 79.7L282.8 83.2L288.1 91.4L296 105.4L299.4 110.2L303 114L311 121.1L321.9 131.6L332.7 143.3L338.3 149.7L340.6 152L346.3 155.9L348.8 157.2L351.3 158.2L357.9 159.9L368.6 161.6L379.8 162.4L389.5 162.8L441.8 163" fill="none" stroke="#D95319" stroke-width="1.25" stroke-linejoin="round"/>
<path d="M263.4 15.2L263.9 36.7L264.2 41.7L264.7 45.2L264.9 45.5L265.2 45.1L266.1 41L267.3 38L267.5 37.8L267.9 37.9L268.7 39.1L270 42L271.7 48.3L273.7 54.4L276.9 62.9L280.7 77.5L281.7 80L283.2 82.6L287.8 89.1L295.3 100.6L299 105.3L302.4 108.6L311.2 115.6L329.7 132L332.7 135.3L339.9 144.5L345.1 149.3L350.8 153.5L354.7 155.9L357.7 157.4L360 158.3L364 159.5L370.7 160.8L381.5 162.1L390.7 162.6L410 163L441.8 163" fill="none" stroke="#EDB120" stroke-width="1.25" stroke-linejoin="round"/>
<path d="M263.4 15.2L264 39.2L264.2 43.2L264.7 47.1L264.9 47.3L265.2 46.8L266.2 42.6L267.3 39.5L267.5 39.2L267.9 39.2L268.7 40.2L270 43.2L273.8 55.2L276.9 62.7L280.7 76.5L281.7 78.9L283.2 81.3L294.7 96.6L299.2 101.6L304.9 106.3L321.3 117.7L327.9 122.8L331.5 126.2L340.1 135.9L346.7 141.9L351.5 145.7L356.5 149.2L361.8 152.6L366.6 155.3L369.9 156.9L373.2 158.1L382 160.4L388.2 161.5L395.2 162.3L400.4 162.7L441.8 163" fill="none" stroke="#7E2F8E" stroke-width="1.25" stroke-linejoin="round"/>
<path d="M263.4 15.2L264.1 41.6L264.4 46.3L264.8 49.1L265 49.2L265.2 48.6L266.2 44.3L267.2 41.1L267.7 40.5L268.4 41.1L270 44.1L273.7 55L276.8 62.4L280 73.7L281.4 77.1L283 79.8L284.8 82.2L293.9 92.8L298 96.9L300.6 98.8L303.8 100.7L319 108.3L322.2 110L329.2 114.9L347.4 126.7L354.7 131.9L362.5 137.9L375.2 148.6L381.8 153.9L387 157.3L390.9 159.4L393.4 160.4L396.8 161L402 161.8L407.3 162.3L421.1 162.9L441.8 163" fill="none" stroke="#77AC30" stroke-width="1.25" stroke-linejoin="round"/>
<path d="M263.4 15.2L264.1 43.3L264.4 48.3L264.8 51L265 51L265.2 50.4L266.2 45.8L267.2 42.5L267.7 41.9L268.5 42.5L270 45.3L273.8 55.6L276.8 62.4L279.9 72.7L281.2 75.8L283 78.6L285.3 81.5L290.8 87.2L295.1 91.1L298 93.3L300.8 95.1L304.4 97.1L308.1 98.9L312.9 101L322.8 104.3L335.1 110.4L362.2 121.3L366.6 123.3L370.6 125.4L374 127.6L377.9 130.7L398.9 149L407 155L411.4 157.7L413.4 158.5L417.8 160L424.1 161.5L433.4 162.4L441.8 162.8" fill="none" stroke="#4DBEEE" stroke-width="1.25" stroke-linejoin="round"/>
<path d="M263.4 15.2L264.1 45.2L264.8 52.9L265 52.9L265.3 52.2L266.2 47.4L267.2 44L267.7 43.3L268.5 43.8L270.1 46.5L273.9 56.2L276.7 62.3L280 72L281.4 75L283.7 78.3L286.4 81.2L291.4 85.7L296.2 89.3L300.6 91.9L305.8 94.5L310.4 96.4L314.9 97.7L349.2 106.2L358.1 108L392.7 114.2L400.5 115.9L408.9 118.2L419.3 121.8L427.7 125.3L435.1 129.4L441.8 133.9" fill="none" stroke="#A2142F" stroke-width="1.25" stroke-linejoin="round"/>
<path d="M263.4 15.2L264.2 46.8L264.5 52.4L264.9 54.8L265.1 54.7L265.3 54.1L266.2 49L267.2 45.5L267.7 44.7L268.4 45.1L269.7 46.8L270.5 48.2L274 56.7L277 62.8L280.3 71.9L281.9 74.8L284.8 78.2L288.9 81.8L293.7 85.2L298.5 87.9L302.6 89.7L307.2 91.4L313.7 93.4L319 94.8L332.7 97.3L345.6 99L359.9 99.9L388.9 101L441.8 102.1" fill="none" stroke="#0072BD" stroke-width="1.25" stroke-linejoin="round"/>
<path d="M263.4 15.2L264.2 48.4L264.9 56.6L265.1 56.6L265.3 55.9L266.2 50.7L267.2 47L267.7 46.1L268.5 46.5L269.8 48L270.8 49.8L274.1 57L277 62.8L280.2 70.9L281.9 73.7L284.6 76.8L287.6 79.4L291.7 82.1L296.4 84.5L300.8 86.3L305.5 87.9L316.9 90.8L325.1 92.2L337.9 93.4L352.6 94.1L368.4 94.6L441.8 95" fill="none" stroke="#D95319" stroke-width="1.25" stroke-linejoin="round"/>
<path d="M263.4 15.2L264.2 49.6L264.5 55.8L264.9 58.5L265.1 58.5L265.3 57.8L266.3 52.2L267.3 48.4L267.8 47.5L268.6 47.8L270.1 49.5L271.8 52.4L274.1 57.3L277 62.9L280 69.5L281.5 72.1L284 75.1L286.7 77.6L289.9 79.6L293.7 81.4L300.3 83.8L306.9 85.8L317.4 88.2L322.6 88.9L334.4 89.3L367.4 90.1L441.8 90.5" fill="none" stroke="#EDB120" stroke-width="1.25" stroke-linejoin="round"/>
<path d="M263.4 15.2L264.2 51.3L264.6 57.7L264.9 60.4L265.1 60.3L265.3 59.6L266.3 53.8L267.3 49.8L267.8 48.9L268.7 49.2L270.3 50.7L271.9 53.1L274.1 57.7L277 62.7L279.9 68.5L281.1 70.5L283.7 73.5L286 75.7L288 77L291 78.4L295.5 79.9L308.1 83.4L316.3 85L322 85.6L334.9 86.1L350.8 86.3L441.8 86.5" fill="none" stroke="#7E2F8E" stroke-width="1.25" stroke-linejoin="round"/>
<circle cx="263.35" cy="15.15" r="1.85" fill="none" stroke="#0072BD" stroke-width="1.0"/>
<circle cx="277.69" cy="70.73" r="1.85" fill="none" stroke="#0072BD" stroke-width="1.0"/>
<circle cx="333.64" cy="150.19" r="1.85" fill="none" stroke="#0072BD" stroke-width="1.0"/>
<circle cx="419.09" cy="162.98" r="1.85" fill="none" stroke="#0072BD" stroke-width="1.0"/>
<path d="M261.67 15.15H265.03M263.35 13.47V16.83" stroke="#D95319" stroke-width="1.0" fill="none"/>
<path d="M275.94 67.48H279.3M277.62 65.8V69.16" stroke="#D95319" stroke-width="1.0" fill="none"/>
<path d="M330.71 142.89H334.07M332.39 141.21V144.57" stroke="#D95319" stroke-width="1.0" fill="none"/>
<path d="M412.95 162.96H416.31M414.63 161.28V164.64" stroke="#D95319" stroke-width="1.0" fill="none"/>
<circle cx="263.35" cy="15.15" r="1.78" fill="#EDB120"/>
<circle cx="277.44" cy="64.75" r="1.78" fill="#EDB120"/>
<circle cx="330.79" cy="133.09" r="1.78" fill="#EDB120"/>
<circle cx="406.96" cy="162.95" r="1.78" fill="#EDB120"/>
<rect x="261.92" y="13.72" width="2.86" height="2.86" fill="none" stroke="#7E2F8E" stroke-width="1.0"/>
<rect x="275.84" y="62.57" width="2.86" height="2.86" fill="none" stroke="#7E2F8E" stroke-width="1.0"/>
<rect x="327.57" y="122.31" width="2.86" height="2.86" fill="none" stroke="#7E2F8E" stroke-width="1.0"/>
<rect x="398.93" y="161.26" width="2.86" height="2.86" fill="none" stroke="#7E2F8E" stroke-width="1.0"/>
<path d="M263.35 12.84L265.03 15.15L263.35 17.46L261.67 15.15Z" fill="none" stroke="#77AC30" stroke-width="1.0"/>
<path d="M277.09 61.03L278.77 63.34L277.09 65.65L275.41 63.34Z" fill="none" stroke="#77AC30" stroke-width="1.0"/>
<path d="M328.29 112.02L329.97 114.33L328.29 116.64L326.61 114.33Z" fill="none" stroke="#77AC30" stroke-width="1.0"/>
<path d="M393.94 158.18L395.62 160.49L393.94 162.8L392.26 160.49Z" fill="none" stroke="#77AC30" stroke-width="1.0"/>
<path d="M261.78 13.58L264.93 16.73M261.78 16.73L264.93 13.58" stroke="#4DBEEE" stroke-width="1.0" fill="none"/>
<path d="M275.33 61.2L278.48 64.35M275.33 64.35L278.48 61.2" stroke="#4DBEEE" stroke-width="1.0" fill="none"/>
<path d="M324.04 104.08L327.19 107.23M324.04 107.23L327.19 104.08" stroke="#4DBEEE" stroke-width="1.0" fill="none"/>
<path d="M384.51 136.14L387.66 139.29M384.51 139.29L387.66 136.14" stroke="#4DBEEE" stroke-width="1.0" fill="none"/>
<path d="M260.94 13.22L265.77 13.22L263.35 17.57Z" fill="none" stroke="#A2142F" stroke-width="1.0"/>
<path d="M274.31 60.37L279.15 60.37L276.73 64.72Z" fill="none" stroke="#A2142F" stroke-width="1.0"/>
<path d="M322.66 98.22L327.49 98.22L325.08 102.57Z" fill="none" stroke="#A2142F" stroke-width="1.0"/>
<path d="M377.25 109.81L382.08 109.81L379.67 114.16Z" fill="none" stroke="#A2142F" stroke-width="1.0"/>
<path d="M436.3 129.78L441.13 129.78L438.72 134.13Z" fill="none" stroke="#A2142F" stroke-width="1.0"/>
<path d="M260.94 17.08L265.77 17.08L263.35 12.74Z" fill="none" stroke="#0072BD" stroke-width="1.0"/>
<path d="M274.31 64.23L279.15 64.23L276.73 59.88Z" fill="none" stroke="#0072BD" stroke-width="1.0"/>
<path d="M321.23 97.68L326.06 97.68L323.65 93.33Z" fill="none" stroke="#0072BD" stroke-width="1.0"/>
<path d="M371.9 102.44L376.73 102.44L374.31 98.09Z" fill="none" stroke="#0072BD" stroke-width="1.0"/>
<path d="M423.28 103.72L428.11 103.72L425.69 99.38Z" fill="none" stroke="#0072BD" stroke-width="1.0"/>
<path d="M265.28 12.74L265.28 17.57L260.94 15.15Z" fill="none" stroke="#D95319" stroke-width="1.0"/>
<path d="M278.66 59.88L278.66 64.71L274.31 62.29Z" fill="none" stroke="#D95319" stroke-width="1.0"/>
<path d="M324.33 89.39L324.33 94.22L319.99 91.81Z" fill="none" stroke="#D95319" stroke-width="1.0"/>
<path d="M372.5 92.18L372.5 97.01L368.15 94.59Z" fill="none" stroke="#D95319" stroke-width="1.0"/>
<path d="M422.81 92.5L422.81 97.33L418.46 94.91Z" fill="none" stroke="#D95319" stroke-width="1.0"/>
<path d="M261.42 12.74L261.42 17.57L265.77 15.15Z" fill="none" stroke="#EDB120" stroke-width="1.0"/>
<path d="M274.8 59.87L274.8 64.7L279.15 62.29Z" fill="none" stroke="#EDB120" stroke-width="1.0"/>
<path d="M317.26 86.07L317.26 90.9L321.6 88.48Z" fill="none" stroke="#EDB120" stroke-width="1.0"/>
<path d="M364 87.64L364 92.47L368.35 90.05Z" fill="none" stroke="#EDB120" stroke-width="1.0"/>
<path d="M410.74 87.97L410.74 92.8L415.09 90.38Z" fill="none" stroke="#EDB120" stroke-width="1.0"/>
<path d="M263.35 12.21L264.08 14.15L266.15 14.24L264.52 15.53L265.08 17.53L263.35 16.38L261.62 17.53L262.18 15.53L260.55 14.24L262.62 14.15Z" fill="#7E2F8E" stroke="#7E2F8E" stroke-width="0.5"/>
<path d="M276.73 59.34L277.46 61.28L279.53 61.37L277.9 62.66L278.46 64.66L276.73 63.52L275 64.66L275.56 62.66L273.93 61.37L276 61.28Z" fill="#7E2F8E" stroke="#7E2F8E" stroke-width="0.5"/>
<path d="M317.94 82.27L318.67 84.21L320.74 84.3L319.11 85.59L319.67 87.59L317.94 86.45L316.21 87.59L316.77 85.59L315.14 84.3L317.21 84.21Z" fill="#7E2F8E" stroke="#7E2F8E" stroke-width="0.5"/>
<path d="M362.36 83.4L363.09 85.34L365.16 85.43L363.54 86.72L364.09 88.72L362.36 87.57L360.63 88.72L361.19 86.72L359.57 85.43L361.64 85.34Z" fill="#7E2F8E" stroke="#7E2F8E" stroke-width="0.5"/>
<path d="M405.71 83.49L406.44 85.44L408.51 85.53L406.89 86.82L407.44 88.81L405.71 87.67L403.99 88.81L404.54 86.82L402.92 85.53L404.99 85.44Z" fill="#7E2F8E" stroke="#7E2F8E" stroke-width="0.5"/>
<path d="M500.6 89.1L501.1 67.3L501.5 58.6L502.4 49.3L502.9 47.5L503.3 46.9L503.7 47.6L504.5 50L510 73.3L511.6 79L514 86.3L515.1 91.2L517 95.9L520.6 102.1L523.1 105.5L529.3 113.5L532.2 116.8L534.9 119.6L539.7 123.8L550.4 132.3L564.5 145.3L570.2 151.1L575.5 155.3L577.5 156.5L579.8 157.5L585.9 159.6L594.1 161.3L600.5 162.2L610.7 162.7L620.3 162.9L679 163" fill="none" stroke="#0072BD" stroke-width="1.25" stroke-linejoin="round"/>
<path d="M500.6 89.1L501.1 67.3L501.5 58.6L502.4 48.9L502.9 47L503.3 46.4L503.9 47.2L504.8 50.2L510.6 74.2L514 84.5L515.1 88.3L517.9 95.6L519.5 98.6L521.5 101.6L528.8 111L531.3 113.9L533.6 116.1L536.1 118.2L547.5 126.7L557.9 135.1L569.8 145.5L575.9 151.4L578.2 153.2L583.7 156.5L588.7 158.6L596.9 160.7L605 161.9L615 162.5L626.6 162.9L679 163" fill="none" stroke="#D95319" stroke-width="1.25" stroke-linejoin="round"/>
<path d="M500.6 89.1L501.1 67.3L501.5 58.3L502.5 48.4L503 46.3L503.4 45.8L503.9 46.6L504.9 49.4L509.5 68.4L512.6 78.8L517.9 93.5L520 97.3L522.7 101.1L529 108.5L531.3 110.8L533.8 113L567.1 136.6L570.2 139.1L577.7 145.9L583.7 150.9L587.1 153.4L593.4 156.8L598.9 159L605.5 160.6L613.3 161.7L622.6 162.4L633.2 162.8L679 163" fill="none" stroke="#EDB120" stroke-width="1.25" stroke-linejoin="round"/>
<path d="M500.6 89.1L501.1 67.3L501.5 58.3L502.5 47.8L503.1 45.7L503.5 45.2L504 46.1L505.1 49.1L509.1 65.4L510.8 71.3L517 89.8L518.4 93.3L519.5 95.5L521.3 98.3L525 103L529.5 107.2L534.5 111L540.6 114.6L555.7 122.5L563.9 127.3L568.9 130.8L577.1 137.8L585.2 144.2L593 149.9L597.1 152.6L601 154.8L605.5 157L609.2 158.5L613.7 159.9L619.9 161.1L625.1 161.9L631.5 162.4L646.9 162.9L679 163" fill="none" stroke="#7E2F8E" stroke-width="1.25" stroke-linejoin="round"/>
<path d="M500.6 89.1L501.1 67.3L501.5 58.3L502.6 47.4L503.1 45.2L503.5 44.7L504.1 45.6L505.2 48.6L509 64L510.7 69.7L518.2 90.8L520.8 95.4L524 99.8L526.5 102.3L530.9 105.7L534.9 108L539.3 110.1L552.7 114.9L558.6 117.4L580.5 129L587.1 132.9L592.5 136.4L614.1 152.2L621.2 156.6L627.6 159.7L630.3 160.5L633.7 161.1L639 161.8L644.7 162.3L659.7 162.9L679 163" fill="none" stroke="#77AC30" stroke-width="1.25" stroke-linejoin="round"/>
<path d="M500.6 89.1L501.1 67.3L501.5 58.3L502.6 47L503.2 44.7L503.4 44.2L503.6 44.1L504.2 45L505.2 48L509 62.6L510.9 68.8L517.9 87.6L520.2 91.8L523.4 96.1L525.9 98.6L529.7 101.4L535.4 104.7L542.9 107.8L549.5 110L562.7 113.6L576.4 118.8L588 122.1L595.9 124.7L601.6 126.9L606.7 129.1L612.6 132.4L620.3 137.7L625.5 141.6L634.2 148.9L641.5 154.4L644.9 156.5L649.7 158.8L654.9 160.5L660.6 161.5L669.5 162.4L679 162.8" fill="none" stroke="#4DBEEE" stroke-width="1.25" stroke-linejoin="round"/>
<path d="M500.6 89.1L501.1 67.3L501.5 58.3L502.6 46.6L503.2 44.2L503.6 43.6L504.2 44.4L505.3 47.4L508.9 61.1L510.8 67.3L516.8 83.1L518.3 86.5L520.8 90.3L524 93.8L527.9 96.9L532.7 99.8L537.9 102.2L543.6 104.2L564.3 109.2L576.1 111.4L597.6 115L633 120.3L643.5 122.5L651.9 125L662.2 128.7L669.4 131.9L679 136.8" fill="none" stroke="#A2142F" stroke-width="1.25" stroke-linejoin="round"/>
<path d="M500.6 89.1L501.1 67.3L501.5 58.3L502.7 46.2L503.2 43.7L503.6 43L504.3 43.8L505.4 46.9L508.8 59.7L510.9 66.3L516.7 80.8L518.4 84.4L519.7 86.4L521.5 88.6L523.3 90.5L525.2 92.1L530.2 95.2L535.7 97.7L542.9 100L558.9 103.9L566.6 104.9L576.6 105.9L596.6 107.2L610.9 107.9L679 109.4" fill="none" stroke="#0072BD" stroke-width="1.25" stroke-linejoin="round"/>
<path d="M500.6 89.1L501.1 67.3L501.5 58.3L502.7 45.8L503.2 43.2L503.7 42.4L504.3 43.3L505.5 46.5L508.7 58.1L510.9 64.9L516.7 78.5L518.4 82.2L519.7 84L521.7 86.5L523.4 88.3L525 89.6L529.3 92.1L534.7 94.3L543.1 96.7L557.9 99.9L563.2 100.5L572.3 101.2L583.4 101.6L599.1 102L679 102.7" fill="none" stroke="#D95319" stroke-width="1.25" stroke-linejoin="round"/>
<path d="M500.6 89.1L501.1 67.3L501.5 58.3L502.7 45.3L503.3 42.7L503.7 41.9L504.4 42.8L505.6 45.9L508.4 56.1L510.9 63.5L516.6 76.4L518.4 79.9L521.7 84.2L524.9 87.2L529.1 89.6L534.5 91.7L541.8 93.6L556.1 96.1L562.1 96.6L572 97.1L584.4 97.5L599.8 97.6L679 97.8" fill="none" stroke="#EDB120" stroke-width="1.25" stroke-linejoin="round"/>
<path d="M500.6 89.1L501.1 67.3L501.5 58.3L502.7 45L503.3 42.2L503.8 41.3L504.1 41.5L504.5 42.2L505.8 45.5L508.2 54.3L511 62.4L516.4 73.8L518.4 77.5L521.7 81.6L524.9 84.5L529 86.7L534.3 88.6L541.1 90.3L548.4 91.6L555.7 92.4L564.5 92.8L580.2 93.2L610.9 93.5L679 93.6" fill="none" stroke="#7E2F8E" stroke-width="1.25" stroke-linejoin="round"/>
<circle cx="500.6" cy="89.1" r="1.85" fill="none" stroke="#0072BD" stroke-width="1.0"/>
<circle cx="515.48" cy="92.46" r="1.85" fill="none" stroke="#0072BD" stroke-width="1.0"/>
<circle cx="570.89" cy="151.73" r="1.85" fill="none" stroke="#0072BD" stroke-width="1.0"/>
<circle cx="656.7" cy="162.99" r="1.85" fill="none" stroke="#0072BD" stroke-width="1.0"/>
<path d="M498.92 89.1H502.28M500.6 87.42V90.78" stroke="#D95319" stroke-width="1.0" fill="none"/>
<path d="M513.67 89.23H517.03M515.35 87.55V90.91" stroke="#D95319" stroke-width="1.0" fill="none"/>
<path d="M567.96 145.36H571.32M569.64 143.68V147.04" stroke="#D95319" stroke-width="1.0" fill="none"/>
<path d="M649.67 162.98H653.03M651.35 161.3V164.66" stroke="#D95319" stroke-width="1.0" fill="none"/>
<circle cx="500.6" cy="89.1" r="1.78" fill="#EDB120"/>
<circle cx="515.25" cy="86.28" r="1.78" fill="#EDB120"/>
<circle cx="567.68" cy="137.04" r="1.78" fill="#EDB120"/>
<circle cx="643.68" cy="162.94" r="1.78" fill="#EDB120"/>
<rect x="499.17" y="87.67" width="2.86" height="2.86" fill="none" stroke="#7E2F8E" stroke-width="1.0"/>
<rect x="513.69" y="82.64" width="2.86" height="2.86" fill="none" stroke="#7E2F8E" stroke-width="1.0"/>
<rect x="565" y="127.53" width="2.86" height="2.86" fill="none" stroke="#7E2F8E" stroke-width="1.0"/>
<rect x="635.65" y="161.28" width="2.86" height="2.86" fill="none" stroke="#7E2F8E" stroke-width="1.0"/>
<path d="M500.6 86.79L502.28 89.1L500.6 91.41L498.92 89.1Z" fill="none" stroke="#77AC30" stroke-width="1.0"/>
<path d="M515 79.57L516.68 81.88L515 84.19L513.32 81.88Z" fill="none" stroke="#77AC30" stroke-width="1.0"/>
<path d="M565.18 118.58L566.86 120.89L565.18 123.2L563.5 120.89Z" fill="none" stroke="#77AC30" stroke-width="1.0"/>
<path d="M631.19 158.4L632.87 160.71L631.19 163.02L629.51 160.71Z" fill="none" stroke="#77AC30" stroke-width="1.0"/>
<path d="M499.03 87.52L502.18 90.67M499.03 90.67L502.18 87.52" stroke="#4DBEEE" stroke-width="1.0" fill="none"/>
<path d="M513.3 78.14L516.45 81.29M513.3 81.29L516.45 78.14" stroke="#4DBEEE" stroke-width="1.0" fill="none"/>
<path d="M562.18 112.38L565.33 115.53M562.18 115.53L565.33 112.38" stroke="#4DBEEE" stroke-width="1.0" fill="none"/>
<path d="M621.94 138.46L625.09 141.61M621.94 141.61L625.09 138.46" stroke="#4DBEEE" stroke-width="1.0" fill="none"/>
<path d="M498.19 87.17L503.02 87.17L500.6 91.52Z" fill="none" stroke="#A2142F" stroke-width="1.0"/>
<path d="M512.35 75.69L517.18 75.69L514.76 80.04Z" fill="none" stroke="#A2142F" stroke-width="1.0"/>
<path d="M560.09 106.86L564.92 106.86L562.5 111.2Z" fill="none" stroke="#A2142F" stroke-width="1.0"/>
<path d="M613.97 115.92L618.8 115.92L616.38 120.26Z" fill="none" stroke="#A2142F" stroke-width="1.0"/>
<path d="M673.55 133.27L678.38 133.27L675.97 137.61Z" fill="none" stroke="#A2142F" stroke-width="1.0"/>
<path d="M498.19 91.03L503.02 91.03L500.6 86.68Z" fill="none" stroke="#0072BD" stroke-width="1.0"/>
<path d="M512.23 77.43L517.06 77.43L514.64 73.09Z" fill="none" stroke="#0072BD" stroke-width="1.0"/>
<path d="M558.13 106.09L562.96 106.09L560.54 101.74Z" fill="none" stroke="#0072BD" stroke-width="1.0"/>
<path d="M608.97 109.87L613.8 109.87L611.39 105.53Z" fill="none" stroke="#0072BD" stroke-width="1.0"/>
<path d="M660.35 110.97L665.18 110.97L662.77 106.62Z" fill="none" stroke="#0072BD" stroke-width="1.0"/>
<path d="M502.53 86.68L502.53 91.52L498.19 89.1Z" fill="none" stroke="#D95319" stroke-width="1.0"/>
<path d="M516.45 70.99L516.45 75.82L512.1 73.4Z" fill="none" stroke="#D95319" stroke-width="1.0"/>
<path d="M561.94 97.78L561.94 102.61L557.59 100.19Z" fill="none" stroke="#D95319" stroke-width="1.0"/>
<path d="M609.75 99.65L609.75 104.48L605.4 102.07Z" fill="none" stroke="#D95319" stroke-width="1.0"/>
<path d="M659.17 100.16L659.17 104.99L654.82 102.58Z" fill="none" stroke="#D95319" stroke-width="1.0"/>
<path d="M498.67 86.68L498.67 91.52L503.02 89.1Z" fill="none" stroke="#EDB120" stroke-width="1.0"/>
<path d="M512.48 68.95L512.48 73.78L516.82 71.37Z" fill="none" stroke="#EDB120" stroke-width="1.0"/>
<path d="M554.69 93.71L554.69 98.54L559.03 96.13Z" fill="none" stroke="#EDB120" stroke-width="1.0"/>
<path d="M600.71 95.25L600.71 100.08L605.06 97.67Z" fill="none" stroke="#EDB120" stroke-width="1.0"/>
<path d="M647.81 95.38L647.81 100.21L652.16 97.79Z" fill="none" stroke="#EDB120" stroke-width="1.0"/>
<path d="M500.6 86.16L501.33 88.1L503.4 88.19L501.77 89.48L502.33 91.48L500.6 90.33L498.87 91.48L499.43 89.48L497.8 88.19L499.87 88.1Z" fill="#7E2F8E" stroke="#7E2F8E" stroke-width="0.5"/>
<path d="M514.28 66.37L515.01 68.31L517.08 68.4L515.46 69.69L516.01 71.69L514.28 70.54L512.56 71.69L513.11 69.69L511.49 68.4L513.56 68.31Z" fill="#7E2F8E" stroke="#7E2F8E" stroke-width="0.5"/>
<path d="M554.66 89.39L555.38 91.34L557.45 91.43L555.83 92.72L556.38 94.71L554.66 93.57L552.93 94.71L553.48 92.72L551.86 91.43L553.93 91.34Z" fill="#7E2F8E" stroke="#7E2F8E" stroke-width="0.5"/>
<path d="M599.43 90.51L600.16 92.45L602.23 92.54L600.61 93.83L601.16 95.83L599.43 94.68L597.71 95.83L598.26 93.83L596.64 92.54L598.71 92.45Z" fill="#7E2F8E" stroke="#7E2F8E" stroke-width="0.5"/>
<path d="M643.32 90.68L644.05 92.62L646.12 92.71L644.49 94L645.05 95.99L643.32 94.85L641.59 95.99L642.15 94L640.52 92.71L642.59 92.62Z" fill="#7E2F8E" stroke="#7E2F8E" stroke-width="0.5"/>
<path d="M24.4 349.6L25.6 318.1L26.3 308.9L26.6 306.7L26.9 306L27.2 306.3L27.5 307.4L28.6 314.6L29.4 318.1L30.7 322.8L31.7 325.7L33.5 329.1L36.1 333L39.1 337.1L41.5 339.7L43.5 341.3L46 342.8L59 349.2L73.7 355.5L86.4 360L91.2 361.5L95.8 362.4L103.2 363.4L109.4 364L129.4 364.4L203 364.4" fill="none" stroke="#0072BD" stroke-width="1.25" stroke-linejoin="round"/>
<path d="M24.4 349.6L25.6 317.5L26.4 308.7L26.7 306.5L27 305.8L27.5 306.9L28.7 312.8L29.7 316.4L31 320.2L32.1 322.7L34.1 326.2L38.4 332.2L40.6 334.8L42.4 336.5L45.7 338.4L50.7 340.5L79.4 350.2L84.1 352L94.4 356.6L105.3 360.9L109.1 361.9L115.5 362.8L122.8 363.6L130.1 364L147.5 364.4L203 364.4" fill="none" stroke="#D95319" stroke-width="1.25" stroke-linejoin="round"/>
<path d="M24.4 349.6L25 331.1L25.6 317.1L26.5 308.2L26.8 306.1L27.1 305.5L27.6 306.3L28.8 311L30.7 316.2L32 318.7L33.8 321.2L39.4 327.8L41.8 330.1L46 332.6L51.4 334.7L57.4 336.5L64.8 338.1L87.8 341.8L105.7 344.4L122.6 345.8L127.8 346.6L137.1 348.8L144.8 351.1L152.8 353.9L163.9 358.4L170.5 360.5L175 361.8L181 362.9L187.8 363.7L195.9 364.2L203 364.4" fill="none" stroke="#EDB120" stroke-width="1.25" stroke-linejoin="round"/>
<path d="M24.4 349.6L25 331.1L25.6 317.2L26.5 307.9L26.8 305.8L27.1 305.1L27.6 305.7L29.3 309.8L31.9 313.9L34.9 317.3L39.4 321.1L44 324.1L48.3 326.3L54.4 328.3L59.4 329.3L67.8 329.8L110.1 330.8L203 331.2" fill="none" stroke="#7E2F8E" stroke-width="1.25" stroke-linejoin="round"/>
<path d="M24.4 349.6L25 330.6L25.6 317L26.3 308.9L27.3 303.3L28 303.7L31.1 307.2L32.4 308.3L39 313L41.9 314.8L45.8 316.6L48.9 317.7L52.4 318.3L57.3 318.9L69.6 319.9L203 320.3" fill="none" stroke="#77AC30" stroke-width="1.25" stroke-linejoin="round"/>
<path d="M24.4 349.6L25 329.7L25.7 315.4L27.2 301.2L27.4 300.2L27.9 299.5L28.6 299.7L31.2 301.7L32.7 302.6L39.5 305.6L43.2 307L50.1 308.6L58.3 309.2L66.2 309.5L203 309.5" fill="none" stroke="#4DBEEE" stroke-width="1.25" stroke-linejoin="round"/>
<path d="M24.4 349.6L25.1 327.9L26 312.6L27.2 301.6L27.9 297.7L28.3 296.6L29.5 295.7L32.5 295.9L49.8 299.5L55.1 299.8L203 299.9" fill="none" stroke="#A2142F" stroke-width="1.25" stroke-linejoin="round"/>
<path d="M24.4 349.6L25.2 326.7L26.1 311.7L28.4 292.9L29 290.6L29.9 289.4L30.6 288.9L44.9 290.2L51 291L57.6 291.1L203 291.2" fill="none" stroke="#0072BD" stroke-width="1.25" stroke-linejoin="round"/>
<path d="M24.4 349.6L25.2 326.3L26.1 311.5L29 287.1L30 283.2L30.7 282.2L31.5 281.7L32.4 281.6L34.8 282.1L37.4 282.3L51.9 283.2L203 283.3" fill="none" stroke="#D95319" stroke-width="1.25" stroke-linejoin="round"/>
<path d="M24.4 349.6L25.1 327.1L26 312L29.4 282.6L30.3 278.1L31.1 276L31.8 275.1L36.3 275L51.9 275.8L203 276" fill="none" stroke="#EDB120" stroke-width="1.25" stroke-linejoin="round"/>
<path d="M24.4 349.6L25 329.7L25.7 315.7L27.5 299.5L29 282.1L29.8 275.8L30.9 271.3L31.5 269.6L32.5 268.5L33.2 267.9L36.1 267.9L44.9 268.9L74.2 269.6L203 269.6" fill="none" stroke="#7E2F8E" stroke-width="1.25" stroke-linejoin="round"/>
<circle cx="24.4" cy="349.64" r="1.85" fill="none" stroke="#0072BD" stroke-width="1.0"/>
<circle cx="35.65" cy="332.4" r="1.85" fill="none" stroke="#0072BD" stroke-width="1.0"/>
<circle cx="80.48" cy="357.99" r="1.85" fill="none" stroke="#0072BD" stroke-width="1.0"/>
<circle cx="148.53" cy="364.4" r="1.85" fill="none" stroke="#0072BD" stroke-width="1.0"/>
<path d="M22.72 349.64H26.08M24.4 347.96V351.32" stroke="#D95319" stroke-width="1.0" fill="none"/>
<path d="M33.97 328.4H37.33M35.65 326.72V330.08" stroke="#D95319" stroke-width="1.0" fill="none"/>
<path d="M78.98 350.67H82.34M80.66 348.99V352.35" stroke="#D95319" stroke-width="1.0" fill="none"/>
<path d="M142.56 364.36H145.92M144.24 362.68V366.04" stroke="#D95319" stroke-width="1.0" fill="none"/>
<circle cx="24.4" cy="349.64" r="1.78" fill="#EDB120"/>
<circle cx="35.65" cy="323.29" r="1.78" fill="#EDB120"/>
<circle cx="81.37" cy="340.84" r="1.78" fill="#EDB120"/>
<circle cx="135.67" cy="348.45" r="1.78" fill="#EDB120"/>
<circle cx="203" cy="364.4" r="1.78" fill="#EDB120"/>
<rect x="22.97" y="348.21" width="2.86" height="2.86" fill="none" stroke="#7E2F8E" stroke-width="1.0"/>
<rect x="33.69" y="316.06" width="2.86" height="2.86" fill="none" stroke="#7E2F8E" stroke-width="1.0"/>
<rect x="73.34" y="328.6" width="2.86" height="2.86" fill="none" stroke="#7E2F8E" stroke-width="1.0"/>
<rect x="115.67" y="329.47" width="2.86" height="2.86" fill="none" stroke="#7E2F8E" stroke-width="1.0"/>
<rect x="158.53" y="329.68" width="2.86" height="2.86" fill="none" stroke="#7E2F8E" stroke-width="1.0"/>
<rect x="200.68" y="329.76" width="2.86" height="2.86" fill="none" stroke="#7E2F8E" stroke-width="1.0"/>
<path d="M24.4 347.33L26.08 349.64L24.4 351.95L22.72 349.64Z" fill="none" stroke="#77AC30" stroke-width="1.0"/>
<path d="M35.12 307.92L36.8 310.23L35.12 312.54L33.44 310.23Z" fill="none" stroke="#77AC30" stroke-width="1.0"/>
<path d="M69.59 317.59L71.27 319.9L69.59 322.21L67.91 319.9Z" fill="none" stroke="#77AC30" stroke-width="1.0"/>
<path d="M105.84 317.69L107.52 320L105.84 322.31L104.16 320Z" fill="none" stroke="#77AC30" stroke-width="1.0"/>
<path d="M142.28 317.8L143.96 320.11L142.28 322.42L140.6 320.11Z" fill="none" stroke="#77AC30" stroke-width="1.0"/>
<path d="M178.53 317.91L180.21 320.22L178.53 322.53L176.85 320.22Z" fill="none" stroke="#77AC30" stroke-width="1.0"/>
<path d="M22.82 348.06L25.97 351.21M22.82 351.21L25.97 348.06" stroke="#4DBEEE" stroke-width="1.0" fill="none"/>
<path d="M33.36 302.03L36.51 305.18M33.36 305.18L36.51 302.03" stroke="#4DBEEE" stroke-width="1.0" fill="none"/>
<path d="M64.62 307.92L67.77 311.07M64.62 311.07L67.77 307.92" stroke="#4DBEEE" stroke-width="1.0" fill="none"/>
<path d="M97.12 307.92L100.27 311.07M97.12 311.07L100.27 307.92" stroke="#4DBEEE" stroke-width="1.0" fill="none"/>
<path d="M128.91 307.92L132.06 311.07M128.91 311.07L132.06 307.92" stroke="#4DBEEE" stroke-width="1.0" fill="none"/>
<path d="M161.24 307.92L164.39 311.07M161.24 311.07L164.39 307.92" stroke="#4DBEEE" stroke-width="1.0" fill="none"/>
<path d="M193.57 307.92L196.72 311.07M193.57 311.07L196.72 307.92" stroke="#4DBEEE" stroke-width="1.0" fill="none"/>
<path d="M21.98 347.71L26.81 347.71L24.4 352.06Z" fill="none" stroke="#A2142F" stroke-width="1.0"/>
<path d="M32.52 294.47L37.35 294.47L34.94 298.82Z" fill="none" stroke="#A2142F" stroke-width="1.0"/>
<path d="M61.63 297.97L66.46 297.97L64.05 302.31Z" fill="none" stroke="#A2142F" stroke-width="1.0"/>
<path d="M91.28 297.97L96.11 297.97L93.7 302.31Z" fill="none" stroke="#A2142F" stroke-width="1.0"/>
<path d="M120.75 297.97L125.58 297.97L123.17 302.31Z" fill="none" stroke="#A2142F" stroke-width="1.0"/>
<path d="M150.22 297.97L155.05 297.97L152.63 302.31Z" fill="none" stroke="#A2142F" stroke-width="1.0"/>
<path d="M180.22 297.97L185.05 297.97L182.64 302.31Z" fill="none" stroke="#A2142F" stroke-width="1.0"/>
<path d="M21.98 351.57L26.81 351.57L24.4 347.22Z" fill="none" stroke="#0072BD" stroke-width="1.0"/>
<path d="M32.52 291.23L37.35 291.23L34.94 286.89Z" fill="none" stroke="#0072BD" stroke-width="1.0"/>
<path d="M61.1 293.12L65.93 293.12L63.51 288.78Z" fill="none" stroke="#0072BD" stroke-width="1.0"/>
<path d="M88.07 293.12L92.9 293.12L90.48 288.78Z" fill="none" stroke="#0072BD" stroke-width="1.0"/>
<path d="M115.57 293.12L120.4 293.12L117.99 288.78Z" fill="none" stroke="#0072BD" stroke-width="1.0"/>
<path d="M143.25 293.12L148.08 293.12L145.67 288.78Z" fill="none" stroke="#0072BD" stroke-width="1.0"/>
<path d="M171.12 293.12L175.95 293.12L173.53 288.78Z" fill="none" stroke="#0072BD" stroke-width="1.0"/>
<path d="M198.98 293.12L203.81 293.12L201.39 288.78Z" fill="none" stroke="#0072BD" stroke-width="1.0"/>
<path d="M26.33 347.22L26.33 352.06L21.98 349.64Z" fill="none" stroke="#D95319" stroke-width="1.0"/>
<path d="M36.69 279.66L36.69 284.49L32.34 282.08Z" fill="none" stroke="#D95319" stroke-width="1.0"/>
<path d="M62.23 280.82L62.23 285.65L57.88 283.23Z" fill="none" stroke="#D95319" stroke-width="1.0"/>
<path d="M87.41 280.84L87.41 285.67L83.07 283.26Z" fill="none" stroke="#D95319" stroke-width="1.0"/>
<path d="M112.95 280.86L112.95 285.69L108.61 283.28Z" fill="none" stroke="#D95319" stroke-width="1.0"/>
<path d="M138.85 280.87L138.85 285.7L134.5 283.29Z" fill="none" stroke="#D95319" stroke-width="1.0"/>
<path d="M164.57 280.88L164.57 285.71L160.22 283.29Z" fill="none" stroke="#D95319" stroke-width="1.0"/>
<path d="M190.64 280.88L190.64 285.71L186.3 283.29Z" fill="none" stroke="#D95319" stroke-width="1.0"/>
<path d="M22.47 347.22L22.47 352.06L26.81 349.64Z" fill="none" stroke="#EDB120" stroke-width="1.0"/>
<path d="M32.47 272.58L32.47 277.41L36.82 275Z" fill="none" stroke="#EDB120" stroke-width="1.0"/>
<path d="M56.22 273.44L56.22 278.27L60.57 275.86Z" fill="none" stroke="#EDB120" stroke-width="1.0"/>
<path d="M79.98 273.49L79.98 278.32L84.32 275.91Z" fill="none" stroke="#EDB120" stroke-width="1.0"/>
<path d="M104.45 273.53L104.45 278.36L108.79 275.94Z" fill="none" stroke="#EDB120" stroke-width="1.0"/>
<path d="M128.56 273.55L128.56 278.38L132.9 275.97Z" fill="none" stroke="#EDB120" stroke-width="1.0"/>
<path d="M152.67 273.57L152.67 278.4L157.01 275.98Z" fill="none" stroke="#EDB120" stroke-width="1.0"/>
<path d="M176.96 273.57L176.96 278.4L181.3 275.99Z" fill="none" stroke="#EDB120" stroke-width="1.0"/>
<path d="M200.89 273.57L200.89 278.4L205.24 275.99Z" fill="none" stroke="#EDB120" stroke-width="1.0"/>
<path d="M24.4 346.7L25.13 348.64L27.2 348.73L25.57 350.02L26.13 352.02L24.4 350.87L22.67 352.02L23.23 350.02L21.6 348.73L23.67 348.64Z" fill="#7E2F8E" stroke="#7E2F8E" stroke-width="0.5"/>
<path d="M33.69 264.86L34.41 266.8L36.48 266.89L34.86 268.18L35.42 270.17L33.69 269.03L31.96 270.17L32.51 268.18L30.89 266.89L32.96 266.8Z" fill="#7E2F8E" stroke="#7E2F8E" stroke-width="0.5"/>
<path d="M56.37 266.27L57.1 268.21L59.17 268.3L57.54 269.59L58.1 271.59L56.37 270.44L54.64 271.59L55.2 269.59L53.57 268.3L55.64 268.21Z" fill="#7E2F8E" stroke="#7E2F8E" stroke-width="0.5"/>
<path d="M78.69 266.7L79.42 268.64L81.49 268.73L79.87 270.02L80.42 272.02L78.69 270.88L76.97 272.02L77.52 270.02L75.9 268.73L77.97 268.64Z" fill="#7E2F8E" stroke="#7E2F8E" stroke-width="0.5"/>
<path d="M101.38 266.7L102.1 268.64L104.17 268.73L102.55 270.02L103.1 272.02L101.38 270.88L99.65 272.02L100.2 270.02L98.58 268.73L100.65 268.64Z" fill="#7E2F8E" stroke="#7E2F8E" stroke-width="0.5"/>
<path d="M123.88 266.7L124.61 268.64L126.68 268.73L125.05 270.02L125.61 272.02L123.88 270.88L122.15 272.02L122.71 270.02L121.08 268.73L123.15 268.64Z" fill="#7E2F8E" stroke="#7E2F8E" stroke-width="0.5"/>
<path d="M146.74 266.7L147.47 268.64L149.54 268.73L147.92 270.02L148.47 272.02L146.74 270.88L145.01 272.02L145.57 270.02L143.94 268.73L146.02 268.64Z" fill="#7E2F8E" stroke="#7E2F8E" stroke-width="0.5"/>
<path d="M169.42 266.7L170.15 268.64L172.22 268.73L170.6 270.02L171.15 272.02L169.42 270.88L167.7 272.02L168.25 270.02L166.63 268.73L168.7 268.64Z" fill="#7E2F8E" stroke="#7E2F8E" stroke-width="0.5"/>
<path d="M192.64 266.7L193.37 268.64L195.44 268.73L193.82 270.02L194.37 272.02L192.64 270.88L190.91 272.02L191.47 270.02L189.85 268.73L191.92 268.64Z" fill="#7E2F8E" stroke="#7E2F8E" stroke-width="0.5"/>
<path d="M263.4 253.9L263.6 265.4L264 271.3L264.4 274.1L265 274.5L265.3 274.1L266.7 267.9L267.6 267.4L268.5 267.2L269.1 267.9L270.7 272.3L273 282.3L274.1 285.8L278.1 294.8L285.5 313.4L287.6 317.6L290.8 322.8L294.4 327.7L307.2 342.7L311.3 347L314.9 350.4L317.9 352.8L321.5 355.2L327.2 358.4L332.4 360.5L341.8 362.9L349.3 364L368.2 364.5L441.8 364.5" fill="none" stroke="#0072BD" stroke-width="1.25" stroke-linejoin="round"/>
<path d="M263.4 253.9L263.6 265.8L264 272.2L264.4 275L264.7 275.1L265.2 274.6L266.7 271.2L268.5 270.7L269 271.1L270.8 275.1L273.5 283.1L275.1 286.7L282.6 301.2L287.6 309.9L290.6 314.5L293.3 317.5L296.9 320.8L304.4 326.8L318.5 337.5L330.2 347.9L335.8 352.1L339.3 354.5L342.2 356.1L345.2 357.5L358.4 362L362.5 362.9L370.4 363.8L376.5 364.3L382 364.5L441.8 364.5" fill="none" stroke="#D95319" stroke-width="1.25" stroke-linejoin="round"/>
<path d="M263.4 253.9L263.7 267.3L264.1 273.4L264.5 275.9L264.7 275.9L265 274.7L266.2 273.9L268.5 273.8L269.1 274.1L270.8 276.7L273.3 282.9L274.9 286L277.9 290.6L281.7 295.8L284.8 299.2L290.5 304.7L294.9 308.5L299 311.4L303.3 313.7L308.5 316.1L313.7 318.1L319 319.8L327.8 322L349.2 325.9L356.1 327.7L361.5 329.5L366.8 331.9L385.6 342.3L396.8 348.7L407.5 355.3L415 358.9L420.5 361L426.6 362.4L433.9 363.6L441.8 364.3" fill="none" stroke="#EDB120" stroke-width="1.25" stroke-linejoin="round"/>
<path d="M263.4 253.9L263.7 267.8L264.1 274.2L264.5 276.8L265.4 276.8L266.7 277.6L268.7 278.4L270.6 281.3L273.3 286L275.5 288.6L279.1 291.9L285.5 296.8L290.5 301.2L292.4 302.6L294 303.3L300.3 304.3L308 305L327.2 306L342.2 306.5L441.8 306.6" fill="none" stroke="#7E2F8E" stroke-width="1.25" stroke-linejoin="round"/>
<path d="M263.4 253.9L263.5 264.2L263.8 270.6L264.2 275.9L264.8 278.1L266.6 280.8L268.7 282.8L270.3 284.7L273.4 289.1L275.7 291.5L278.3 293.4L280.6 294.9L283.9 296.3L286.7 297.2L294.7 298.5L307.4 299.4L441.8 299.6" fill="none" stroke="#77AC30" stroke-width="1.25" stroke-linejoin="round"/>
<path d="M263.4 253.9L263.8 270.9L264.2 276.5L264.7 279.1L271.9 291.5L273.5 293.8L275.1 295.4L276.9 296.9L279.7 298.7L281.4 299.4L285.8 300.1L289.9 300.4L441.8 300.6" fill="none" stroke="#4DBEEE" stroke-width="1.25" stroke-linejoin="round"/>
<path d="M263.4 253.9L263.6 265.7L264.3 278L264.5 279.3L265.1 279.7L265.5 280.6L266.6 285.7L267.5 288.6L270.1 295.7L271.9 299.5L273.2 301.7L274.3 302.8L275.8 303.9L280.7 306.2L284.9 306.8L289.9 307L441.8 307.1" fill="none" stroke="#A2142F" stroke-width="1.25" stroke-linejoin="round"/>
<path d="M263.4 253.9L263.6 266.6L264.3 278.6L264.5 280.1L265.1 281.1L265.4 282.4L266.7 290.2L268.5 298.2L270.2 304.1L271.6 307.6L272.9 310.1L274.3 311.8L275.9 313.5L277.3 314.4L279 315.1L280.8 315.6L283 315.9L289.8 316.4L441.8 316.5" fill="none" stroke="#0072BD" stroke-width="1.25" stroke-linejoin="round"/>
<path d="M263.4 253.9L263.6 267.7L264.3 279.6L265.4 284.4L267.5 299L269.8 310.5L271.7 316.9L273.5 320.7L274.7 322.1L276.1 323.3L279.9 325.5L281.2 325.9L283.3 326.2L289.8 326.6L441.8 326.7" fill="none" stroke="#D95319" stroke-width="1.25" stroke-linejoin="round"/>
<path d="M263.4 253.9L263.6 267.7L264.3 279.8L265.3 286.7L267.2 303.4L269.4 317.3L271.3 324.8L272.4 328L273.3 330.3L274.7 332.4L276.2 334.2L277.4 335.2L279.2 336.2L281.5 336.9L289.8 337.4L441.8 337.7" fill="none" stroke="#EDB120" stroke-width="1.25" stroke-linejoin="round"/>
<path d="M263.4 253.9L263.7 270.4L264.7 284.9L266.7 306.9L269.1 325.4L270.5 334.7L271.3 338L272.3 340.3L274.2 344.1L275.2 345.5L276 346.2L278.2 347.1L280.5 347.7L289 348.2L441.8 348.2" fill="none" stroke="#7E2F8E" stroke-width="1.25" stroke-linejoin="round"/>
<circle cx="263.35" cy="253.88" r="1.85" fill="none" stroke="#0072BD" stroke-width="1.0"/>
<circle cx="274.59" cy="287.02" r="1.85" fill="none" stroke="#0072BD" stroke-width="1.0"/>
<circle cx="319.37" cy="353.81" r="1.85" fill="none" stroke="#0072BD" stroke-width="1.0"/>
<circle cx="387.34" cy="364.5" r="1.85" fill="none" stroke="#0072BD" stroke-width="1.0"/>
<path d="M261.67 253.88H265.03M263.35 252.19V255.56" stroke="#D95319" stroke-width="1.0" fill="none"/>
<path d="M272.91 285.58H276.27M274.59 283.9V287.26" stroke="#D95319" stroke-width="1.0" fill="none"/>
<path d="M317.87 338.4H321.23M319.55 336.72V340.08" stroke="#D95319" stroke-width="1.0" fill="none"/>
<path d="M381.38 364.5H384.74M383.06 362.82V366.18" stroke="#D95319" stroke-width="1.0" fill="none"/>
<circle cx="263.35" cy="253.88" r="1.78" fill="#EDB120"/>
<circle cx="274.59" cy="285.42" r="1.78" fill="#EDB120"/>
<circle cx="320.26" cy="320.2" r="1.78" fill="#EDB120"/>
<circle cx="374.49" cy="336.2" r="1.78" fill="#EDB120"/>
<circle cx="441.75" cy="364.32" r="1.78" fill="#EDB120"/>
<rect x="261.92" y="252.45" width="2.86" height="2.86" fill="none" stroke="#7E2F8E" stroke-width="1.0"/>
<rect x="272.63" y="285.62" width="2.86" height="2.86" fill="none" stroke="#7E2F8E" stroke-width="1.0"/>
<rect x="312.23" y="303.87" width="2.86" height="2.86" fill="none" stroke="#7E2F8E" stroke-width="1.0"/>
<rect x="354.51" y="305.18" width="2.86" height="2.86" fill="none" stroke="#7E2F8E" stroke-width="1.0"/>
<rect x="397.33" y="305.18" width="2.86" height="2.86" fill="none" stroke="#7E2F8E" stroke-width="1.0"/>
<rect x="439.43" y="305.18" width="2.86" height="2.86" fill="none" stroke="#7E2F8E" stroke-width="1.0"/>
<path d="M263.35 251.56L265.03 253.88L263.35 256.19L261.67 253.88Z" fill="none" stroke="#77AC30" stroke-width="1.0"/>
<path d="M274.05 287.55L275.73 289.86L274.05 292.17L272.37 289.86Z" fill="none" stroke="#77AC30" stroke-width="1.0"/>
<path d="M308.49 297.11L310.17 299.42L308.49 301.73L306.81 299.42Z" fill="none" stroke="#77AC30" stroke-width="1.0"/>
<path d="M344.7 297.21L346.38 299.52L344.7 301.83L343.02 299.52Z" fill="none" stroke="#77AC30" stroke-width="1.0"/>
<path d="M381.09 297.27L382.77 299.58L381.09 301.89L379.41 299.58Z" fill="none" stroke="#77AC30" stroke-width="1.0"/>
<path d="M417.31 297.29L418.99 299.6L417.31 301.91L415.63 299.6Z" fill="none" stroke="#77AC30" stroke-width="1.0"/>
<path d="M261.78 252.3L264.93 255.45M261.78 255.45L264.93 252.3" stroke="#4DBEEE" stroke-width="1.0" fill="none"/>
<path d="M272.3 292.67L275.45 295.82M272.3 295.82L275.45 292.67" stroke="#4DBEEE" stroke-width="1.0" fill="none"/>
<path d="M303.52 298.88L306.67 302.03M303.52 302.03L306.67 298.88" stroke="#4DBEEE" stroke-width="1.0" fill="none"/>
<path d="M335.99 298.96L339.14 302.11M335.99 302.11L339.14 298.96" stroke="#4DBEEE" stroke-width="1.0" fill="none"/>
<path d="M367.74 299L370.89 302.15M367.74 302.15L370.89 299" stroke="#4DBEEE" stroke-width="1.0" fill="none"/>
<path d="M400.04 299.02L403.19 302.17M400.04 302.17L403.19 299.02" stroke="#4DBEEE" stroke-width="1.0" fill="none"/>
<path d="M432.33 299.02L435.48 302.17M432.33 302.17L435.48 299.02" stroke="#4DBEEE" stroke-width="1.0" fill="none"/>
<path d="M260.94 251.94L265.77 251.94L263.35 256.29Z" fill="none" stroke="#A2142F" stroke-width="1.0"/>
<path d="M271.46 300.51L276.29 300.51L273.88 304.86Z" fill="none" stroke="#A2142F" stroke-width="1.0"/>
<path d="M300.54 305.13L305.37 305.13L302.95 309.48Z" fill="none" stroke="#A2142F" stroke-width="1.0"/>
<path d="M330.15 305.16L334.98 305.16L332.57 309.51Z" fill="none" stroke="#A2142F" stroke-width="1.0"/>
<path d="M359.59 305.18L364.42 305.18L362.01 309.52Z" fill="none" stroke="#A2142F" stroke-width="1.0"/>
<path d="M389.03 305.19L393.86 305.19L391.44 309.53Z" fill="none" stroke="#A2142F" stroke-width="1.0"/>
<path d="M419 305.19L423.83 305.19L421.41 309.54Z" fill="none" stroke="#A2142F" stroke-width="1.0"/>
<path d="M260.94 255.81L265.77 255.81L263.35 251.46Z" fill="none" stroke="#0072BD" stroke-width="1.0"/>
<path d="M271.46 313.31L276.29 313.31L273.88 308.96Z" fill="none" stroke="#0072BD" stroke-width="1.0"/>
<path d="M300 318.33L304.83 318.33L302.42 313.99Z" fill="none" stroke="#0072BD" stroke-width="1.0"/>
<path d="M326.94 318.37L331.77 318.37L329.36 314.03Z" fill="none" stroke="#0072BD" stroke-width="1.0"/>
<path d="M354.42 318.4L359.25 318.4L356.83 314.05Z" fill="none" stroke="#0072BD" stroke-width="1.0"/>
<path d="M382.07 318.41L386.9 318.41L384.48 314.07Z" fill="none" stroke="#0072BD" stroke-width="1.0"/>
<path d="M409.9 318.42L414.73 318.42L412.31 314.07Z" fill="none" stroke="#0072BD" stroke-width="1.0"/>
<path d="M437.73 318.42L442.56 318.42L440.14 314.07Z" fill="none" stroke="#0072BD" stroke-width="1.0"/>
<path d="M265.28 251.46L265.28 256.29L260.94 253.88Z" fill="none" stroke="#D95319" stroke-width="1.0"/>
<path d="M275.63 318.6L275.63 323.43L271.28 321.01Z" fill="none" stroke="#D95319" stroke-width="1.0"/>
<path d="M301.14 324.2L301.14 329.03L296.79 326.61Z" fill="none" stroke="#D95319" stroke-width="1.0"/>
<path d="M326.29 324.23L326.29 329.06L321.95 326.65Z" fill="none" stroke="#D95319" stroke-width="1.0"/>
<path d="M351.81 324.26L351.81 329.09L347.46 326.68Z" fill="none" stroke="#D95319" stroke-width="1.0"/>
<path d="M377.67 324.28L377.67 329.11L373.33 326.69Z" fill="none" stroke="#D95319" stroke-width="1.0"/>
<path d="M403.36 324.28L403.36 329.11L399.02 326.7Z" fill="none" stroke="#D95319" stroke-width="1.0"/>
<path d="M429.41 324.29L429.41 329.12L425.06 326.7Z" fill="none" stroke="#D95319" stroke-width="1.0"/>
<path d="M261.42 251.46L261.42 256.29L265.77 253.88Z" fill="none" stroke="#EDB120" stroke-width="1.0"/>
<path d="M271.41 327.85L271.41 332.68L275.76 330.27Z" fill="none" stroke="#EDB120" stroke-width="1.0"/>
<path d="M295.14 335.01L295.14 339.84L299.48 337.43Z" fill="none" stroke="#EDB120" stroke-width="1.0"/>
<path d="M318.86 335.1L318.86 339.93L323.21 337.51Z" fill="none" stroke="#EDB120" stroke-width="1.0"/>
<path d="M343.3 335.16L343.3 339.99L347.65 337.58Z" fill="none" stroke="#EDB120" stroke-width="1.0"/>
<path d="M367.39 335.2L367.39 340.03L371.73 337.62Z" fill="none" stroke="#EDB120" stroke-width="1.0"/>
<path d="M391.47 335.23L391.47 340.06L395.82 337.64Z" fill="none" stroke="#EDB120" stroke-width="1.0"/>
<path d="M415.73 335.24L415.73 340.07L420.08 337.65Z" fill="none" stroke="#EDB120" stroke-width="1.0"/>
<path d="M439.64 335.24L439.64 340.07L443.99 337.65Z" fill="none" stroke="#EDB120" stroke-width="1.0"/>
<path d="M263.35 250.94L264.08 252.88L266.15 252.97L264.52 254.26L265.08 256.25L263.35 255.11L261.62 256.25L262.18 254.26L260.55 252.97L262.62 252.88Z" fill="#7E2F8E" stroke="#7E2F8E" stroke-width="0.5"/>
<path d="M272.63 338.08L273.35 340.03L275.42 340.12L273.8 341.41L274.35 343.4L272.63 342.26L270.9 343.4L271.45 341.41L269.83 340.12L271.9 340.03Z" fill="#7E2F8E" stroke="#7E2F8E" stroke-width="0.5"/>
<path d="M295.28 345.23L296.01 347.17L298.08 347.26L296.46 348.55L297.01 350.55L295.28 349.4L293.56 350.55L294.11 348.55L292.49 347.26L294.56 347.17Z" fill="#7E2F8E" stroke="#7E2F8E" stroke-width="0.5"/>
<path d="M317.58 345.24L318.31 347.18L320.38 347.27L318.76 348.56L319.31 350.56L317.58 349.41L315.86 350.56L316.41 348.56L314.79 347.27L316.86 347.18Z" fill="#7E2F8E" stroke="#7E2F8E" stroke-width="0.5"/>
<path d="M340.24 345.25L340.97 347.19L343.04 347.28L341.41 348.57L341.97 350.57L340.24 349.42L338.51 350.57L339.07 348.57L337.44 347.28L339.51 347.19Z" fill="#7E2F8E" stroke="#7E2F8E" stroke-width="0.5"/>
<path d="M362.72 345.26L363.44 347.2L365.51 347.29L363.89 348.58L364.45 350.57L362.72 349.43L360.99 350.57L361.54 348.58L359.92 347.29L361.99 347.2Z" fill="#7E2F8E" stroke="#7E2F8E" stroke-width="0.5"/>
<path d="M385.55 345.26L386.28 347.2L388.35 347.29L386.73 348.58L387.28 350.58L385.55 349.43L383.83 350.58L384.38 348.58L382.76 347.29L384.83 347.2Z" fill="#7E2F8E" stroke="#7E2F8E" stroke-width="0.5"/>
<path d="M408.21 345.26L408.94 347.2L411.01 347.29L409.39 348.58L409.94 350.58L408.21 349.44L406.48 350.58L407.04 348.58L405.41 347.29L407.49 347.2Z" fill="#7E2F8E" stroke="#7E2F8E" stroke-width="0.5"/>
<path d="M431.4 345.26L432.13 347.2L434.2 347.29L432.58 348.58L433.13 350.58L431.4 349.44L429.67 350.58L430.23 348.58L428.61 347.29L430.68 347.2Z" fill="#7E2F8E" stroke="#7E2F8E" stroke-width="0.5"/>
<path d="M500.6 305.5L501.9 279.4L502.8 270.5L503 269.1L503.3 268.7L503.8 269.9L504.9 276.4L507.3 286.5L510.7 298.7L512.8 303.8L517.1 313.1L519.2 316.9L522.5 322.5L526.5 327.4L530.7 332L535.6 336.7L544.3 344.5L549.1 348.5L553.2 351.6L556.3 353.6L562.7 357.4L567.9 359.8L573.4 361.5L580.7 363.2L587.1 363.9L605.7 364.5L679 364.5" fill="none" stroke="#0072BD" stroke-width="1.25" stroke-linejoin="round"/>
<path d="M500.6 305.5L502 279.4L502.8 271.2L503.1 269.6L503.3 269.2L503.8 270.2L504.9 275.6L507.4 284.5L510.9 294.9L514.6 303L517.3 308.2L519.7 311.8L522.9 315.8L527.2 320.3L530.7 323.3L554.8 339L558.8 341.8L570 350.6L576.6 355.2L580.3 357.5L582.8 358.7L585.2 359.6L594.8 362.2L600.1 363.2L608.4 363.9L615.8 364.3L622.6 364.5L679 364.5" fill="none" stroke="#D95319" stroke-width="1.25" stroke-linejoin="round"/>
<path d="M500.6 305.5L502 279.2L502.8 271.5L503.1 269.8L503.3 269.4L503.8 270.3L505 274.8L507.1 281.1L509.7 287.3L513.6 295.1L517 300.8L519.9 304.4L523.4 307.7L528.4 311.5L533.6 314.6L538.1 316.8L543.8 319L549.8 321.1L557.2 323.1L570.7 326.4L595.9 331.3L601.9 332.9L607.6 335.3L619.8 341.3L629 346.6L641.5 354.6L646.4 357.2L651.3 359.5L657.4 361.6L663.8 363L671.3 364L679 364.4" fill="none" stroke="#EDB120" stroke-width="1.25" stroke-linejoin="round"/>
<path d="M500.6 305.5L502 280.1L502.7 272.6L503 270.9L503.3 270.3L503.8 270.9L504.9 274.3L507.3 279.3L509.9 284.5L512.3 288L515.7 292L520.6 296.8L526.1 301.2L530.6 303.8L535.2 305.2L538.6 305.7L545.4 306.2L568.4 307.3L583.7 307.7L679 308.2" fill="none" stroke="#7E2F8E" stroke-width="1.25" stroke-linejoin="round"/>
<path d="M500.6 305.5L502 280.5L502.6 274.1L503.4 269.8L504.2 270.6L507.7 275.9L510.5 279.5L514.4 283.8L517.6 286.7L521.5 289.3L524.5 290.8L527.9 291.7L532.9 292.6L542.2 293.8L545.6 294L679 294.5" fill="none" stroke="#77AC30" stroke-width="1.25" stroke-linejoin="round"/>
<path d="M500.6 305.5L502 280L503.5 268.1L503.6 267.4L504 266.9L504.7 267.5L507.5 271.6L509.9 274.4L512.3 276.7L515.5 279L518 280.5L520.4 281.5L524.5 282.7L527.9 283.3L535.6 283.8L542 284L679 284.1" fill="none" stroke="#4DBEEE" stroke-width="1.25" stroke-linejoin="round"/>
<path d="M500.6 305.5L502.2 278.9L503.5 269.3L504 266.7L504.3 266L505 266.1L505.6 266.4L509.9 270.9L510.9 271.6L512.7 272.5L518.6 274.9L524.9 276.4L527.9 276.9L539.5 277.1L679 277.1" fill="none" stroke="#A2142F" stroke-width="1.25" stroke-linejoin="round"/>
<path d="M500.6 305.5L502.2 278.6L504.2 266.1L504.7 264.2L505.2 263.4L506 263.5L506.6 263.9L509 266.5L510.5 267.8L513.6 269.4L517.6 270.4L527.9 271.9L539.5 272.1L679 272.1" fill="none" stroke="#0072BD" stroke-width="1.25" stroke-linejoin="round"/>
<path d="M500.6 305.5L501.7 286.3L502.3 279L504.9 263.1L505.6 261L506.1 260.1L507.8 261.3L510.5 264.5L513.1 265.9L518.1 267.3L526.8 268.2L679 268.3" fill="none" stroke="#D95319" stroke-width="1.25" stroke-linejoin="round"/>
<path d="M500.6 305.5L501.7 286.5L502.3 279.5L503.7 273.2L504.9 264.3L505.5 261.5L506.2 259.5L507.5 258.5L508 258.6L509.5 260.4L510.7 261.6L512.6 262.7L514.4 263.5L518.4 264.5L526.5 265.1L679 265.4" fill="none" stroke="#EDB120" stroke-width="1.25" stroke-linejoin="round"/>
<path d="M500.6 305.5L501.5 288.4L502.1 282.5L503.7 275.6L505.1 264.2L505.6 261.1L506.2 258.9L506.8 258.1L507.3 257.7L509.6 258.4L512.7 260.6L515.3 261.4L519.5 262.3L525.2 262.6L552.7 263.3L679 263.3" fill="none" stroke="#7E2F8E" stroke-width="1.25" stroke-linejoin="round"/>
<circle cx="500.6" cy="305.5" r="1.85" fill="none" stroke="#0072BD" stroke-width="1.0"/>
<circle cx="511.84" cy="301.53" r="1.85" fill="none" stroke="#0072BD" stroke-width="1.0"/>
<circle cx="556.62" cy="353.82" r="1.85" fill="none" stroke="#0072BD" stroke-width="1.0"/>
<circle cx="624.59" cy="364.5" r="1.85" fill="none" stroke="#0072BD" stroke-width="1.0"/>
<path d="M498.92 305.5H502.28M500.6 303.82V307.18" stroke="#D95319" stroke-width="1.0" fill="none"/>
<path d="M510.16 296.96H513.52M511.84 295.28V298.64" stroke="#D95319" stroke-width="1.0" fill="none"/>
<path d="M555.12 340.34H558.48M556.8 338.66V342.02" stroke="#D95319" stroke-width="1.0" fill="none"/>
<path d="M618.63 364.46H621.99M620.31 362.78V366.14" stroke="#D95319" stroke-width="1.0" fill="none"/>
<circle cx="500.6" cy="305.5" r="1.78" fill="#EDB120"/>
<circle cx="511.84" cy="291.79" r="1.78" fill="#EDB120"/>
<circle cx="557.51" cy="323.24" r="1.78" fill="#EDB120"/>
<circle cx="611.74" cy="337.24" r="1.78" fill="#EDB120"/>
<circle cx="679" cy="364.43" r="1.78" fill="#EDB120"/>
<rect x="499.17" y="304.07" width="2.86" height="2.86" fill="none" stroke="#7E2F8E" stroke-width="1.0"/>
<rect x="509.88" y="285.22" width="2.86" height="2.86" fill="none" stroke="#7E2F8E" stroke-width="1.0"/>
<rect x="549.48" y="305.04" width="2.86" height="2.86" fill="none" stroke="#7E2F8E" stroke-width="1.0"/>
<rect x="591.76" y="306.43" width="2.86" height="2.86" fill="none" stroke="#7E2F8E" stroke-width="1.0"/>
<rect x="634.58" y="306.65" width="2.86" height="2.86" fill="none" stroke="#7E2F8E" stroke-width="1.0"/>
<rect x="676.68" y="306.73" width="2.86" height="2.86" fill="none" stroke="#7E2F8E" stroke-width="1.0"/>
<path d="M500.6 303.19L502.28 305.5L500.6 307.81L498.92 305.5Z" fill="none" stroke="#77AC30" stroke-width="1.0"/>
<path d="M511.3 278.2L512.98 280.51L511.3 282.82L509.62 280.51Z" fill="none" stroke="#77AC30" stroke-width="1.0"/>
<path d="M545.74 291.69L547.42 294L545.74 296.31L544.06 294Z" fill="none" stroke="#77AC30" stroke-width="1.0"/>
<path d="M581.95 291.83L583.63 294.14L581.95 296.45L580.27 294.14Z" fill="none" stroke="#77AC30" stroke-width="1.0"/>
<path d="M618.34 291.96L620.02 294.27L618.34 296.58L616.66 294.27Z" fill="none" stroke="#77AC30" stroke-width="1.0"/>
<path d="M654.56 292.08L656.24 294.39L654.56 296.7L652.88 294.39Z" fill="none" stroke="#77AC30" stroke-width="1.0"/>
<path d="M499.03 303.93L502.18 307.07M499.03 307.07L502.18 303.93" stroke="#4DBEEE" stroke-width="1.0" fill="none"/>
<path d="M509.55 274.07L512.7 277.22M509.55 277.22L512.7 274.07" stroke="#4DBEEE" stroke-width="1.0" fill="none"/>
<path d="M540.77 282.44L543.92 285.59M540.77 285.59L543.92 282.44" stroke="#4DBEEE" stroke-width="1.0" fill="none"/>
<path d="M573.24 282.47L576.39 285.62M573.24 285.62L576.39 282.47" stroke="#4DBEEE" stroke-width="1.0" fill="none"/>
<path d="M604.99 282.48L608.14 285.63M604.99 285.63L608.14 282.48" stroke="#4DBEEE" stroke-width="1.0" fill="none"/>
<path d="M637.28 282.49L640.44 285.64M637.28 285.64L640.44 282.49" stroke="#4DBEEE" stroke-width="1.0" fill="none"/>
<path d="M669.58 282.49L672.73 285.64M669.58 285.64L672.73 282.49" stroke="#4DBEEE" stroke-width="1.0" fill="none"/>
<path d="M498.19 303.57L503.02 303.57L500.6 307.92Z" fill="none" stroke="#A2142F" stroke-width="1.0"/>
<path d="M508.71 269.79L513.54 269.79L511.13 274.14Z" fill="none" stroke="#A2142F" stroke-width="1.0"/>
<path d="M537.79 275.14L542.62 275.14L540.2 279.48Z" fill="none" stroke="#A2142F" stroke-width="1.0"/>
<path d="M567.4 275.15L572.23 275.15L569.82 279.49Z" fill="none" stroke="#A2142F" stroke-width="1.0"/>
<path d="M596.84 275.15L601.67 275.15L599.26 279.5Z" fill="none" stroke="#A2142F" stroke-width="1.0"/>
<path d="M626.28 275.16L631.11 275.16L628.69 279.51Z" fill="none" stroke="#A2142F" stroke-width="1.0"/>
<path d="M656.25 275.16L661.08 275.16L658.66 279.51Z" fill="none" stroke="#A2142F" stroke-width="1.0"/>
<path d="M498.19 307.43L503.02 307.43L500.6 303.08Z" fill="none" stroke="#0072BD" stroke-width="1.0"/>
<path d="M508.71 270.13L513.54 270.13L511.13 265.79Z" fill="none" stroke="#0072BD" stroke-width="1.0"/>
<path d="M537.25 274.03L542.08 274.03L539.67 269.69Z" fill="none" stroke="#0072BD" stroke-width="1.0"/>
<path d="M564.19 274.05L569.02 274.05L566.61 269.7Z" fill="none" stroke="#0072BD" stroke-width="1.0"/>
<path d="M591.67 274.06L596.5 274.06L594.08 269.71Z" fill="none" stroke="#0072BD" stroke-width="1.0"/>
<path d="M619.32 274.06L624.15 274.06L621.73 269.72Z" fill="none" stroke="#0072BD" stroke-width="1.0"/>
<path d="M647.15 274.07L651.98 274.07L649.56 269.72Z" fill="none" stroke="#0072BD" stroke-width="1.0"/>
<path d="M674.98 274.07L679.81 274.07L677.39 269.72Z" fill="none" stroke="#0072BD" stroke-width="1.0"/>
<path d="M502.53 303.08L502.53 307.92L498.19 305.5Z" fill="none" stroke="#D95319" stroke-width="1.0"/>
<path d="M512.88 262.42L512.88 267.25L508.53 264.84Z" fill="none" stroke="#D95319" stroke-width="1.0"/>
<path d="M538.39 265.81L538.39 270.64L534.04 268.23Z" fill="none" stroke="#D95319" stroke-width="1.0"/>
<path d="M563.54 265.86L563.54 270.69L559.2 268.27Z" fill="none" stroke="#D95319" stroke-width="1.0"/>
<path d="M589.06 265.89L589.06 270.72L584.71 268.3Z" fill="none" stroke="#D95319" stroke-width="1.0"/>
<path d="M614.92 265.9L614.92 270.73L610.58 268.32Z" fill="none" stroke="#D95319" stroke-width="1.0"/>
<path d="M640.61 265.91L640.61 270.74L636.27 268.33Z" fill="none" stroke="#D95319" stroke-width="1.0"/>
<path d="M666.66 265.91L666.66 270.74L662.31 268.33Z" fill="none" stroke="#D95319" stroke-width="1.0"/>
<path d="M498.67 303.08L498.67 307.92L503.02 305.5Z" fill="none" stroke="#EDB120" stroke-width="1.0"/>
<path d="M508.66 259.05L508.66 263.88L513.01 261.47Z" fill="none" stroke="#EDB120" stroke-width="1.0"/>
<path d="M532.39 262.77L532.39 267.6L536.73 265.19Z" fill="none" stroke="#EDB120" stroke-width="1.0"/>
<path d="M556.11 262.86L556.11 267.69L560.46 265.27Z" fill="none" stroke="#EDB120" stroke-width="1.0"/>
<path d="M580.55 262.92L580.55 267.75L584.9 265.33Z" fill="none" stroke="#EDB120" stroke-width="1.0"/>
<path d="M604.64 262.96L604.64 267.79L608.98 265.37Z" fill="none" stroke="#EDB120" stroke-width="1.0"/>
<path d="M628.72 262.98L628.72 267.81L633.07 265.4Z" fill="none" stroke="#EDB120" stroke-width="1.0"/>
<path d="M652.98 262.99L652.98 267.82L657.33 265.41Z" fill="none" stroke="#EDB120" stroke-width="1.0"/>
<path d="M676.89 262.99L676.89 267.82L681.24 265.41Z" fill="none" stroke="#EDB120" stroke-width="1.0"/>
<path d="M500.6 302.56L501.33 304.5L503.4 304.59L501.77 305.88L502.33 307.88L500.6 306.73L498.87 307.88L499.43 305.88L497.8 304.59L499.87 304.5Z" fill="#7E2F8E" stroke="#7E2F8E" stroke-width="0.5"/>
<path d="M509.88 255.63L510.6 257.57L512.67 257.66L511.05 258.95L511.6 260.95L509.88 259.81L508.15 260.95L508.7 258.95L507.08 257.66L509.15 257.57Z" fill="#7E2F8E" stroke="#7E2F8E" stroke-width="0.5"/>
<path d="M532.53 259.9L533.26 261.84L535.33 261.93L533.71 263.22L534.26 265.22L532.53 264.07L530.81 265.22L531.36 263.22L529.74 261.93L531.81 261.84Z" fill="#7E2F8E" stroke="#7E2F8E" stroke-width="0.5"/>
<path d="M554.83 260.34L555.56 262.28L557.63 262.37L556.01 263.66L556.56 265.66L554.83 264.51L553.11 265.66L553.66 263.66L552.04 262.37L554.11 262.28Z" fill="#7E2F8E" stroke="#7E2F8E" stroke-width="0.5"/>
<path d="M577.49 260.34L578.22 262.28L580.29 262.37L578.66 263.66L579.22 265.66L577.49 264.52L575.76 265.66L576.32 263.66L574.69 262.37L576.76 262.28Z" fill="#7E2F8E" stroke="#7E2F8E" stroke-width="0.5"/>
<path d="M599.97 260.34L600.69 262.28L602.76 262.37L601.14 263.66L601.7 265.66L599.97 264.52L598.24 265.66L598.79 263.66L597.17 262.37L599.24 262.28Z" fill="#7E2F8E" stroke="#7E2F8E" stroke-width="0.5"/>
<path d="M622.8 260.34L623.53 262.29L625.6 262.38L623.98 263.67L624.53 265.66L622.8 264.52L621.08 265.66L621.63 263.67L620.01 262.38L622.08 262.29Z" fill="#7E2F8E" stroke="#7E2F8E" stroke-width="0.5"/>
<path d="M645.46 260.35L646.19 262.29L648.26 262.38L646.64 263.67L647.19 265.66L645.46 264.52L643.73 265.66L644.29 263.67L642.66 262.38L644.74 262.29Z" fill="#7E2F8E" stroke="#7E2F8E" stroke-width="0.5"/>
<path d="M668.65 260.35L669.38 262.29L671.45 262.38L669.83 263.67L670.38 265.66L668.65 264.52L666.92 265.66L667.48 263.67L665.86 262.38L667.93 262.29Z" fill="#7E2F8E" stroke="#7E2F8E" stroke-width="0.5"/>
<rect x="108.2" y="20.5" width="90" height="65.7" fill="#fff" stroke="#8a8a8a" stroke-width="0.85"/>
<line x1="109.9" y1="26.3" x2="128.1" y2="26.3" stroke="#0072BD" stroke-width="1.25"/>
<circle cx="119" cy="26.3" r="1.85" fill="none" stroke="#0072BD" stroke-width="1.0"/>
<text x="129.6" y="28.3" font-size="6.6">&#947;</text><text x="133.56" y="31.07" font-size="4.75">1</text><path d="M137.78 24.5H141.41M137.78 26.5H141.41" stroke="#404040" stroke-width="0.66"/><text x="142.93" y="28.3" font-size="6.6">0.0</text>
<line x1="109.9" y1="37.05" x2="128.1" y2="37.05" stroke="#D95319" stroke-width="1.25"/>
<path d="M117.32 37.05H120.68M119 35.37V38.73" stroke="#D95319" stroke-width="1.0" fill="none"/>
<text x="129.6" y="39.05" font-size="6.6">&#947;</text><text x="133.56" y="41.82" font-size="4.75">1</text><path d="M137.78 35.5H141.41M137.78 37.5H141.41" stroke="#404040" stroke-width="0.66"/><text x="142.93" y="39.05" font-size="6.6">0.1</text>
<line x1="109.9" y1="47.8" x2="128.1" y2="47.8" stroke="#EDB120" stroke-width="1.25"/>
<circle cx="119" cy="47.8" r="1.78" fill="#EDB120"/>
<text x="129.6" y="49.8" font-size="6.6">&#947;</text><text x="133.56" y="52.57" font-size="4.75">1</text><path d="M137.78 46.5H141.41M137.78 48.5H141.41" stroke="#404040" stroke-width="0.66"/><text x="142.93" y="49.8" font-size="6.6">0.2</text>
<line x1="109.9" y1="58.55" x2="128.1" y2="58.55" stroke="#7E2F8E" stroke-width="1.25"/>
<rect x="117.57" y="57.12" width="2.86" height="2.86" fill="none" stroke="#7E2F8E" stroke-width="1.0"/>
<text x="129.6" y="60.55" font-size="6.6">&#947;</text><text x="133.56" y="63.32" font-size="4.75">1</text><path d="M137.78 57.5H141.41M137.78 59.5H141.41" stroke="#404040" stroke-width="0.66"/><text x="142.93" y="60.55" font-size="6.6">0.3</text>
<line x1="109.9" y1="69.3" x2="128.1" y2="69.3" stroke="#77AC30" stroke-width="1.25"/>
<path d="M119 66.99L120.68 69.3L119 71.61L117.32 69.3Z" fill="none" stroke="#77AC30" stroke-width="1.0"/>
<text x="129.6" y="71.3" font-size="6.6">&#947;</text><text x="133.56" y="74.07" font-size="4.75">1</text><path d="M137.78 67.5H141.41M137.78 69.5H141.41" stroke="#404040" stroke-width="0.66"/><text x="142.93" y="71.3" font-size="6.6">0.4</text>
<line x1="109.9" y1="80.05" x2="128.1" y2="80.05" stroke="#4DBEEE" stroke-width="1.25"/>
<path d="M117.42 78.47L120.58 81.62M117.42 81.62L120.58 78.47" stroke="#4DBEEE" stroke-width="1.0" fill="none"/>
<text x="129.6" y="82.05" font-size="6.6">&#947;</text><text x="133.56" y="84.82" font-size="4.75">1</text><path d="M137.78 78.5H141.41M137.78 80.5H141.41" stroke="#404040" stroke-width="0.66"/><text x="142.93" y="82.05" font-size="6.6">0.5</text>
<line x1="155.2" y1="26.3" x2="173.4" y2="26.3" stroke="#A2142F" stroke-width="1.25"/>
<path d="M161.89 24.37L166.72 24.37L164.3 28.71Z" fill="none" stroke="#A2142F" stroke-width="1.0"/>
<text x="174.9" y="28.3" font-size="6.6">&#947;</text><text x="178.86" y="31.07" font-size="4.75">1</text><path d="M183.08 24.5H186.71M183.08 26.5H186.71" stroke="#404040" stroke-width="0.66"/><text x="188.23" y="28.3" font-size="6.6">0.6</text>
<line x1="155.2" y1="37.05" x2="173.4" y2="37.05" stroke="#0072BD" stroke-width="1.25"/>
<path d="M161.89 38.98L166.72 38.98L164.3 34.63Z" fill="none" stroke="#0072BD" stroke-width="1.0"/>
<text x="174.9" y="39.05" font-size="6.6">&#947;</text><text x="178.86" y="41.82" font-size="4.75">1</text><path d="M183.08 35.5H186.71M183.08 37.5H186.71" stroke="#404040" stroke-width="0.66"/><text x="188.23" y="39.05" font-size="6.6">0.7</text>
<line x1="155.2" y1="47.8" x2="173.4" y2="47.8" stroke="#D95319" stroke-width="1.25"/>
<path d="M166.23 45.38L166.23 50.21L161.89 47.8Z" fill="none" stroke="#D95319" stroke-width="1.0"/>
<text x="174.9" y="49.8" font-size="6.6">&#947;</text><text x="178.86" y="52.57" font-size="4.75">1</text><path d="M183.08 46.5H186.71M183.08 48.5H186.71" stroke="#404040" stroke-width="0.66"/><text x="188.23" y="49.8" font-size="6.6">0.8</text>
<line x1="155.2" y1="58.55" x2="173.4" y2="58.55" stroke="#EDB120" stroke-width="1.25"/>
<path d="M162.37 56.13L162.37 60.96L166.72 58.55Z" fill="none" stroke="#EDB120" stroke-width="1.0"/>
<text x="174.9" y="60.55" font-size="6.6">&#947;</text><text x="178.86" y="63.32" font-size="4.75">1</text><path d="M183.08 57.5H186.71M183.08 59.5H186.71" stroke="#404040" stroke-width="0.66"/><text x="188.23" y="60.55" font-size="6.6">0.9</text>
<line x1="155.2" y1="69.3" x2="173.4" y2="69.3" stroke="#7E2F8E" stroke-width="1.25"/>
<path d="M164.3 66.36L165.03 68.3L167.1 68.39L165.47 69.68L166.03 71.68L164.3 70.53L162.57 71.68L163.13 69.68L161.5 68.39L163.57 68.3Z" fill="#7E2F8E" stroke="#7E2F8E" stroke-width="0.5"/>
<text x="174.9" y="71.3" font-size="6.6">&#947;</text><text x="178.86" y="74.07" font-size="4.75">1</text><path d="M183.08 67.5H186.71M183.08 69.5H186.71" stroke="#404040" stroke-width="0.66"/><text x="188.23" y="71.3" font-size="6.6">1.0</text>
<rect x="346.3" y="18.2" width="90.7" height="66" fill="#fff" stroke="#8a8a8a" stroke-width="0.85"/>
<line x1="351.8" y1="24.3" x2="370" y2="24.3" stroke="#0072BD" stroke-width="1.25"/>
<circle cx="360.9" cy="24.3" r="1.85" fill="none" stroke="#0072BD" stroke-width="1.0"/>
<text x="372.2" y="26.3" font-size="5.7">&#947;</text><text x="375.62" y="28.69" font-size="4.1">1</text><path d="M379.27 23.8H382.4M379.27 25.5H382.4" stroke="#404040" stroke-width="0.57"/><text x="383.71" y="26.3" font-size="5.7">0.0</text>
<line x1="351.8" y1="35" x2="370" y2="35" stroke="#D95319" stroke-width="1.25"/>
<path d="M359.22 35H362.58M360.9 33.32V36.68" stroke="#D95319" stroke-width="1.0" fill="none"/>
<text x="372.2" y="37" font-size="5.7">&#947;</text><text x="375.62" y="39.39" font-size="4.1">1</text><path d="M379.27 33.8H382.4M379.27 35.5H382.4" stroke="#404040" stroke-width="0.57"/><text x="383.71" y="37" font-size="5.7">0.1</text>
<line x1="351.8" y1="45.7" x2="370" y2="45.7" stroke="#EDB120" stroke-width="1.25"/>
<circle cx="360.9" cy="45.7" r="1.78" fill="#EDB120"/>
<text x="372.2" y="47.7" font-size="5.7">&#947;</text><text x="375.62" y="50.09" font-size="4.1">1</text><path d="M379.27 44.8H382.4M379.27 46.5H382.4" stroke="#404040" stroke-width="0.57"/><text x="383.71" y="47.7" font-size="5.7">0.2</text>
<line x1="351.8" y1="56.4" x2="370" y2="56.4" stroke="#7E2F8E" stroke-width="1.25"/>
<rect x="359.47" y="54.97" width="2.86" height="2.86" fill="none" stroke="#7E2F8E" stroke-width="1.0"/>
<text x="372.2" y="58.4" font-size="5.7">&#947;</text><text x="375.62" y="60.79" font-size="4.1">1</text><path d="M379.27 55.8H382.4M379.27 57.5H382.4" stroke="#404040" stroke-width="0.57"/><text x="383.71" y="58.4" font-size="5.7">0.3</text>
<line x1="351.8" y1="67.1" x2="370" y2="67.1" stroke="#77AC30" stroke-width="1.25"/>
<path d="M360.9 64.79L362.58 67.1L360.9 69.41L359.22 67.1Z" fill="none" stroke="#77AC30" stroke-width="1.0"/>
<text x="372.2" y="69.1" font-size="5.7">&#947;</text><text x="375.62" y="71.49" font-size="4.1">1</text><path d="M379.27 65.8H382.4M379.27 67.5H382.4" stroke="#404040" stroke-width="0.57"/><text x="383.71" y="69.1" font-size="5.7">0.4</text>
<line x1="351.8" y1="77.8" x2="370" y2="77.8" stroke="#4DBEEE" stroke-width="1.25"/>
<path d="M359.32 76.22L362.47 79.38M359.32 79.38L362.47 76.22" stroke="#4DBEEE" stroke-width="1.0" fill="none"/>
<text x="372.2" y="79.8" font-size="5.7">&#947;</text><text x="375.62" y="82.19" font-size="4.1">1</text><path d="M379.27 76.8H382.4M379.27 78.5H382.4" stroke="#404040" stroke-width="0.57"/><text x="383.71" y="79.8" font-size="5.7">0.5</text>
<line x1="393.5" y1="24.3" x2="411.7" y2="24.3" stroke="#A2142F" stroke-width="1.25"/>
<path d="M400.19 22.37L405.02 22.37L402.6 26.71Z" fill="none" stroke="#A2142F" stroke-width="1.0"/>
<text x="413.9" y="26.3" font-size="5.7">&#947;</text><text x="417.32" y="28.69" font-size="4.1">1</text><path d="M420.97 23.8H424.1M420.97 25.5H424.1" stroke="#404040" stroke-width="0.57"/><text x="425.41" y="26.3" font-size="5.7">0.6</text>
<line x1="393.5" y1="35" x2="411.7" y2="35" stroke="#0072BD" stroke-width="1.25"/>
<path d="M400.19 36.93L405.02 36.93L402.6 32.59Z" fill="none" stroke="#0072BD" stroke-width="1.0"/>
<text x="413.9" y="37" font-size="5.7">&#947;</text><text x="417.32" y="39.39" font-size="4.1">1</text><path d="M420.97 33.8H424.1M420.97 35.5H424.1" stroke="#404040" stroke-width="0.57"/><text x="425.41" y="37" font-size="5.7">0.7</text>
<line x1="393.5" y1="45.7" x2="411.7" y2="45.7" stroke="#D95319" stroke-width="1.25"/>
<path d="M404.53 43.29L404.53 48.12L400.19 45.7Z" fill="none" stroke="#D95319" stroke-width="1.0"/>
<text x="413.9" y="47.7" font-size="5.7">&#947;</text><text x="417.32" y="50.09" font-size="4.1">1</text><path d="M420.97 44.8H424.1M420.97 46.5H424.1" stroke="#404040" stroke-width="0.57"/><text x="425.41" y="47.7" font-size="5.7">0.8</text>
<line x1="393.5" y1="56.4" x2="411.7" y2="56.4" stroke="#EDB120" stroke-width="1.25"/>
<path d="M400.67 53.98L400.67 58.81L405.02 56.4Z" fill="none" stroke="#EDB120" stroke-width="1.0"/>
<text x="413.9" y="58.4" font-size="5.7">&#947;</text><text x="417.32" y="60.79" font-size="4.1">1</text><path d="M420.97 55.8H424.1M420.97 57.5H424.1" stroke="#404040" stroke-width="0.57"/><text x="425.41" y="58.4" font-size="5.7">0.9</text>
<line x1="393.5" y1="67.1" x2="411.7" y2="67.1" stroke="#7E2F8E" stroke-width="1.25"/>
<path d="M402.6 64.16L403.33 66.1L405.4 66.19L403.77 67.48L404.33 69.48L402.6 68.33L400.87 69.48L401.43 67.48L399.8 66.19L401.87 66.1Z" fill="#7E2F8E" stroke="#7E2F8E" stroke-width="0.5"/>
<text x="413.9" y="69.1" font-size="5.7">&#947;</text><text x="417.32" y="71.49" font-size="4.1">1</text><path d="M420.97 65.8H424.1M420.97 67.5H424.1" stroke="#404040" stroke-width="0.57"/><text x="425.41" y="69.1" font-size="5.7">1.0</text>
<rect x="583.2" y="20.3" width="90.5" height="66.3" fill="#fff" stroke="#8a8a8a" stroke-width="0.85"/>
<line x1="585.4" y1="26.3" x2="603.6" y2="26.3" stroke="#0072BD" stroke-width="1.25"/>
<circle cx="594.5" cy="26.3" r="1.85" fill="none" stroke="#0072BD" stroke-width="1.0"/>
<text x="604.9" y="28.3" font-size="6.6">&#947;</text><text x="608.86" y="31.07" font-size="4.75">1</text><path d="M613.08 24.5H616.71M613.08 26.5H616.71" stroke="#404040" stroke-width="0.66"/><text x="618.23" y="28.3" font-size="6.6">0.0</text>
<line x1="585.4" y1="37.05" x2="603.6" y2="37.05" stroke="#D95319" stroke-width="1.25"/>
<path d="M592.82 37.05H596.18M594.5 35.37V38.73" stroke="#D95319" stroke-width="1.0" fill="none"/>
<text x="604.9" y="39.05" font-size="6.6">&#947;</text><text x="608.86" y="41.82" font-size="4.75">1</text><path d="M613.08 35.5H616.71M613.08 37.5H616.71" stroke="#404040" stroke-width="0.66"/><text x="618.23" y="39.05" font-size="6.6">0.1</text>
<line x1="585.4" y1="47.8" x2="603.6" y2="47.8" stroke="#EDB120" stroke-width="1.25"/>
<circle cx="594.5" cy="47.8" r="1.78" fill="#EDB120"/>
<text x="604.9" y="49.8" font-size="6.6">&#947;</text><text x="608.86" y="52.57" font-size="4.75">1</text><path d="M613.08 46.5H616.71M613.08 48.5H616.71" stroke="#404040" stroke-width="0.66"/><text x="618.23" y="49.8" font-size="6.6">0.2</text>
<line x1="585.4" y1="58.55" x2="603.6" y2="58.55" stroke="#7E2F8E" stroke-width="1.25"/>
<rect x="593.07" y="57.12" width="2.86" height="2.86" fill="none" stroke="#7E2F8E" stroke-width="1.0"/>
<text x="604.9" y="60.55" font-size="6.6">&#947;</text><text x="608.86" y="63.32" font-size="4.75">1</text><path d="M613.08 57.5H616.71M613.08 59.5H616.71" stroke="#404040" stroke-width="0.66"/><text x="618.23" y="60.55" font-size="6.6">0.3</text>
<line x1="585.4" y1="69.3" x2="603.6" y2="69.3" stroke="#77AC30" stroke-width="1.25"/>
<path d="M594.5 66.99L596.18 69.3L594.5 71.61L592.82 69.3Z" fill="none" stroke="#77AC30" stroke-width="1.0"/>
<text x="604.9" y="71.3" font-size="6.6">&#947;</text><text x="608.86" y="74.07" font-size="4.75">1</text><path d="M613.08 67.5H616.71M613.08 69.5H616.71" stroke="#404040" stroke-width="0.66"/><text x="618.23" y="71.3" font-size="6.6">0.4</text>
<line x1="585.4" y1="80.05" x2="603.6" y2="80.05" stroke="#4DBEEE" stroke-width="1.25"/>
<path d="M592.92 78.47L596.08 81.62M592.92 81.62L596.08 78.47" stroke="#4DBEEE" stroke-width="1.0" fill="none"/>
<text x="604.9" y="82.05" font-size="6.6">&#947;</text><text x="608.86" y="84.82" font-size="4.75">1</text><path d="M613.08 78.5H616.71M613.08 80.5H616.71" stroke="#404040" stroke-width="0.66"/><text x="618.23" y="82.05" font-size="6.6">0.5</text>
<line x1="630.7" y1="26.3" x2="648.9" y2="26.3" stroke="#A2142F" stroke-width="1.25"/>
<path d="M637.38 24.37L642.21 24.37L639.8 28.71Z" fill="none" stroke="#A2142F" stroke-width="1.0"/>
<text x="650.2" y="28.3" font-size="6.6">&#947;</text><text x="654.16" y="31.07" font-size="4.75">1</text><path d="M658.38 24.5H662.01M658.38 26.5H662.01" stroke="#404040" stroke-width="0.66"/><text x="663.53" y="28.3" font-size="6.6">0.6</text>
<line x1="630.7" y1="37.05" x2="648.9" y2="37.05" stroke="#0072BD" stroke-width="1.25"/>
<path d="M637.38 38.98L642.21 38.98L639.8 34.63Z" fill="none" stroke="#0072BD" stroke-width="1.0"/>
<text x="650.2" y="39.05" font-size="6.6">&#947;</text><text x="654.16" y="41.82" font-size="4.75">1</text><path d="M658.38 35.5H662.01M658.38 37.5H662.01" stroke="#404040" stroke-width="0.66"/><text x="663.53" y="39.05" font-size="6.6">0.7</text>
<line x1="630.7" y1="47.8" x2="648.9" y2="47.8" stroke="#D95319" stroke-width="1.25"/>
<path d="M641.73 45.38L641.73 50.21L637.38 47.8Z" fill="none" stroke="#D95319" stroke-width="1.0"/>
<text x="650.2" y="49.8" font-size="6.6">&#947;</text><text x="654.16" y="52.57" font-size="4.75">1</text><path d="M658.38 46.5H662.01M658.38 48.5H662.01" stroke="#404040" stroke-width="0.66"/><text x="663.53" y="49.8" font-size="6.6">0.8</text>
<line x1="630.7" y1="58.55" x2="648.9" y2="58.55" stroke="#EDB120" stroke-width="1.25"/>
<path d="M637.87 56.13L637.87 60.96L642.21 58.55Z" fill="none" stroke="#EDB120" stroke-width="1.0"/>
<text x="650.2" y="60.55" font-size="6.6">&#947;</text><text x="654.16" y="63.32" font-size="4.75">1</text><path d="M658.38 57.5H662.01M658.38 59.5H662.01" stroke="#404040" stroke-width="0.66"/><text x="663.53" y="60.55" font-size="6.6">0.9</text>
<line x1="630.7" y1="69.3" x2="648.9" y2="69.3" stroke="#7E2F8E" stroke-width="1.25"/>
<path d="M639.8 66.36L640.53 68.3L642.6 68.39L640.97 69.68L641.53 71.68L639.8 70.53L638.07 71.68L638.63 69.68L637 68.39L639.07 68.3Z" fill="#7E2F8E" stroke="#7E2F8E" stroke-width="0.5"/>
<text x="650.2" y="71.3" font-size="6.6">&#947;</text><text x="654.16" y="74.07" font-size="4.75">1</text><path d="M658.38 67.5H662.01M658.38 69.5H662.01" stroke="#404040" stroke-width="0.66"/><text x="663.53" y="71.3" font-size="6.6">1.0</text>
<rect x="62.4" y="221.4" width="136.6" height="44.6" fill="#fff" stroke="#8a8a8a" stroke-width="0.85"/>
<line x1="64.4" y1="227.5" x2="82.6" y2="227.5" stroke="#0072BD" stroke-width="1.25"/>
<circle cx="73.5" cy="227.5" r="1.85" fill="none" stroke="#0072BD" stroke-width="1.0"/>
<text x="84.3" y="229.5" font-size="6.6">&#947;</text><text x="88.26" y="232.27" font-size="4.75">2</text><path d="M92.48 226.5H96.11M92.48 228.5H96.11" stroke="#404040" stroke-width="0.66"/><text x="97.63" y="229.5" font-size="6.6">0.0</text>
<line x1="64.4" y1="238.2" x2="82.6" y2="238.2" stroke="#D95319" stroke-width="1.25"/>
<path d="M71.82 238.2H75.18M73.5 236.52V239.88" stroke="#D95319" stroke-width="1.0" fill="none"/>
<text x="84.3" y="240.2" font-size="6.6">&#947;</text><text x="88.26" y="242.97" font-size="4.75">2</text><path d="M92.48 236.5H96.11M92.48 238.5H96.11" stroke="#404040" stroke-width="0.66"/><text x="97.63" y="240.2" font-size="6.6">0.1</text>
<line x1="64.4" y1="248.9" x2="82.6" y2="248.9" stroke="#EDB120" stroke-width="1.25"/>
<circle cx="73.5" cy="248.9" r="1.78" fill="#EDB120"/>
<text x="84.3" y="250.9" font-size="6.6">&#947;</text><text x="88.26" y="253.67" font-size="4.75">2</text><path d="M92.48 247.5H96.11M92.48 249.5H96.11" stroke="#404040" stroke-width="0.66"/><text x="97.63" y="250.9" font-size="6.6">0.2</text>
<line x1="64.4" y1="259.6" x2="82.6" y2="259.6" stroke="#7E2F8E" stroke-width="1.25"/>
<rect x="72.07" y="258.17" width="2.86" height="2.86" fill="none" stroke="#7E2F8E" stroke-width="1.0"/>
<text x="84.3" y="261.6" font-size="6.6">&#947;</text><text x="88.26" y="264.37" font-size="4.75">2</text><path d="M92.48 258.5H96.11M92.48 260.5H96.11" stroke="#404040" stroke-width="0.66"/><text x="97.63" y="261.6" font-size="6.6">0.3</text>
<line x1="109.9" y1="227.5" x2="128.1" y2="227.5" stroke="#77AC30" stroke-width="1.25"/>
<path d="M119 225.19L120.68 227.5L119 229.81L117.32 227.5Z" fill="none" stroke="#77AC30" stroke-width="1.0"/>
<text x="129.8" y="229.5" font-size="6.6">&#947;</text><text x="133.76" y="232.27" font-size="4.75">2</text><path d="M137.98 226.5H141.61M137.98 228.5H141.61" stroke="#404040" stroke-width="0.66"/><text x="143.13" y="229.5" font-size="6.6">0.4</text>
<line x1="109.9" y1="238.2" x2="128.1" y2="238.2" stroke="#4DBEEE" stroke-width="1.25"/>
<path d="M117.42 236.62L120.58 239.77M117.42 239.77L120.58 236.62" stroke="#4DBEEE" stroke-width="1.0" fill="none"/>
<text x="129.8" y="240.2" font-size="6.6">&#947;</text><text x="133.76" y="242.97" font-size="4.75">2</text><path d="M137.98 236.5H141.61M137.98 238.5H141.61" stroke="#404040" stroke-width="0.66"/><text x="143.13" y="240.2" font-size="6.6">0.5</text>
<line x1="109.9" y1="248.9" x2="128.1" y2="248.9" stroke="#A2142F" stroke-width="1.25"/>
<path d="M116.58 246.97L121.42 246.97L119 251.31Z" fill="none" stroke="#A2142F" stroke-width="1.0"/>
<text x="129.8" y="250.9" font-size="6.6">&#947;</text><text x="133.76" y="253.67" font-size="4.75">2</text><path d="M137.98 247.5H141.61M137.98 249.5H141.61" stroke="#404040" stroke-width="0.66"/><text x="143.13" y="250.9" font-size="6.6">0.6</text>
<line x1="109.9" y1="259.6" x2="128.1" y2="259.6" stroke="#0072BD" stroke-width="1.25"/>
<path d="M116.58 261.53L121.42 261.53L119 257.19Z" fill="none" stroke="#0072BD" stroke-width="1.0"/>
<text x="129.8" y="261.6" font-size="6.6">&#947;</text><text x="133.76" y="264.37" font-size="4.75">2</text><path d="M137.98 258.5H141.61M137.98 260.5H141.61" stroke="#404040" stroke-width="0.66"/><text x="143.13" y="261.6" font-size="6.6">0.7</text>
<line x1="154.7" y1="227.5" x2="172.9" y2="227.5" stroke="#D95319" stroke-width="1.25"/>
<path d="M165.73 225.09L165.73 229.91L161.39 227.5Z" fill="none" stroke="#D95319" stroke-width="1.0"/>
<text x="174.6" y="229.5" font-size="6.6">&#947;</text><text x="178.56" y="232.27" font-size="4.75">2</text><path d="M182.78 226.5H186.41M182.78 228.5H186.41" stroke="#404040" stroke-width="0.66"/><text x="187.93" y="229.5" font-size="6.6">0.8</text>
<line x1="154.7" y1="238.2" x2="172.9" y2="238.2" stroke="#EDB120" stroke-width="1.25"/>
<path d="M161.87 235.78L161.87 240.61L166.22 238.2Z" fill="none" stroke="#EDB120" stroke-width="1.0"/>
<text x="174.6" y="240.2" font-size="6.6">&#947;</text><text x="178.56" y="242.97" font-size="4.75">2</text><path d="M182.78 236.5H186.41M182.78 238.5H186.41" stroke="#404040" stroke-width="0.66"/><text x="187.93" y="240.2" font-size="6.6">0.9</text>
<line x1="154.7" y1="248.9" x2="172.9" y2="248.9" stroke="#7E2F8E" stroke-width="1.25"/>
<path d="M163.8 245.96L164.53 247.9L166.6 247.99L164.97 249.28L165.53 251.28L163.8 250.13L162.07 251.28L162.63 249.28L161 247.99L163.07 247.9Z" fill="#7E2F8E" stroke="#7E2F8E" stroke-width="0.5"/>
<text x="174.6" y="250.9" font-size="6.6">&#947;</text><text x="178.56" y="253.67" font-size="4.75">2</text><path d="M182.78 247.5H186.41M182.78 249.5H186.41" stroke="#404040" stroke-width="0.66"/><text x="187.93" y="250.9" font-size="6.6">1.0</text>
<rect x="346.5" y="222" width="90.4" height="66.1" fill="#fff" stroke="#8a8a8a" stroke-width="0.85"/>
<line x1="348.9" y1="228.1" x2="367.1" y2="228.1" stroke="#0072BD" stroke-width="1.25"/>
<circle cx="358" cy="228.1" r="1.85" fill="none" stroke="#0072BD" stroke-width="1.0"/>
<text x="368.2" y="230.1" font-size="6.6">&#947;</text><text x="372.16" y="232.87" font-size="4.75">2</text><path d="M376.38 226.5H380.01M376.38 228.5H380.01" stroke="#404040" stroke-width="0.66"/><text x="381.53" y="230.1" font-size="6.6">0.0</text>
<line x1="348.9" y1="238.8" x2="367.1" y2="238.8" stroke="#D95319" stroke-width="1.25"/>
<path d="M356.32 238.8H359.68M358 237.12V240.48" stroke="#D95319" stroke-width="1.0" fill="none"/>
<text x="368.2" y="240.8" font-size="6.6">&#947;</text><text x="372.16" y="243.57" font-size="4.75">2</text><path d="M376.38 237.5H380.01M376.38 239.5H380.01" stroke="#404040" stroke-width="0.66"/><text x="381.53" y="240.8" font-size="6.6">0.1</text>
<line x1="348.9" y1="249.5" x2="367.1" y2="249.5" stroke="#EDB120" stroke-width="1.25"/>
<circle cx="358" cy="249.5" r="1.78" fill="#EDB120"/>
<text x="368.2" y="251.5" font-size="6.6">&#947;</text><text x="372.16" y="254.27" font-size="4.75">2</text><path d="M376.38 248.5H380.01M376.38 250.5H380.01" stroke="#404040" stroke-width="0.66"/><text x="381.53" y="251.5" font-size="6.6">0.2</text>
<line x1="348.9" y1="260.2" x2="367.1" y2="260.2" stroke="#7E2F8E" stroke-width="1.25"/>
<rect x="356.57" y="258.77" width="2.86" height="2.86" fill="none" stroke="#7E2F8E" stroke-width="1.0"/>
<text x="368.2" y="262.2" font-size="6.6">&#947;</text><text x="372.16" y="264.97" font-size="4.75">2</text><path d="M376.38 258.5H380.01M376.38 260.5H380.01" stroke="#404040" stroke-width="0.66"/><text x="381.53" y="262.2" font-size="6.6">0.3</text>
<line x1="348.9" y1="270.9" x2="367.1" y2="270.9" stroke="#77AC30" stroke-width="1.25"/>
<path d="M358 268.59L359.68 270.9L358 273.21L356.32 270.9Z" fill="none" stroke="#77AC30" stroke-width="1.0"/>
<text x="368.2" y="272.9" font-size="6.6">&#947;</text><text x="372.16" y="275.67" font-size="4.75">2</text><path d="M376.38 269.5H380.01M376.38 271.5H380.01" stroke="#404040" stroke-width="0.66"/><text x="381.53" y="272.9" font-size="6.6">0.4</text>
<line x1="348.9" y1="281.6" x2="367.1" y2="281.6" stroke="#4DBEEE" stroke-width="1.25"/>
<path d="M356.43 280.03L359.57 283.18M356.43 283.18L359.57 280.03" stroke="#4DBEEE" stroke-width="1.0" fill="none"/>
<text x="368.2" y="283.6" font-size="6.6">&#947;</text><text x="372.16" y="286.37" font-size="4.75">2</text><path d="M376.38 280.5H380.01M376.38 282.5H380.01" stroke="#404040" stroke-width="0.66"/><text x="381.53" y="283.6" font-size="6.6">0.5</text>
<line x1="393.3" y1="228.1" x2="411.5" y2="228.1" stroke="#A2142F" stroke-width="1.25"/>
<path d="M399.98 226.17L404.81 226.17L402.4 230.51Z" fill="none" stroke="#A2142F" stroke-width="1.0"/>
<text x="412.6" y="230.1" font-size="6.6">&#947;</text><text x="416.56" y="232.87" font-size="4.75">2</text><path d="M420.78 226.5H424.41M420.78 228.5H424.41" stroke="#404040" stroke-width="0.66"/><text x="425.93" y="230.1" font-size="6.6">0.6</text>
<line x1="393.3" y1="238.8" x2="411.5" y2="238.8" stroke="#0072BD" stroke-width="1.25"/>
<path d="M399.98 240.73L404.81 240.73L402.4 236.38Z" fill="none" stroke="#0072BD" stroke-width="1.0"/>
<text x="412.6" y="240.8" font-size="6.6">&#947;</text><text x="416.56" y="243.57" font-size="4.75">2</text><path d="M420.78 237.5H424.41M420.78 239.5H424.41" stroke="#404040" stroke-width="0.66"/><text x="425.93" y="240.8" font-size="6.6">0.7</text>
<line x1="393.3" y1="249.5" x2="411.5" y2="249.5" stroke="#D95319" stroke-width="1.25"/>
<path d="M404.33 247.09L404.33 251.91L399.98 249.5Z" fill="none" stroke="#D95319" stroke-width="1.0"/>
<text x="412.6" y="251.5" font-size="6.6">&#947;</text><text x="416.56" y="254.27" font-size="4.75">2</text><path d="M420.78 248.5H424.41M420.78 250.5H424.41" stroke="#404040" stroke-width="0.66"/><text x="425.93" y="251.5" font-size="6.6">0.8</text>
<line x1="393.3" y1="260.2" x2="411.5" y2="260.2" stroke="#EDB120" stroke-width="1.25"/>
<path d="M400.47 257.78L400.47 262.62L404.81 260.2Z" fill="none" stroke="#EDB120" stroke-width="1.0"/>
<text x="412.6" y="262.2" font-size="6.6">&#947;</text><text x="416.56" y="264.97" font-size="4.75">2</text><path d="M420.78 258.5H424.41M420.78 260.5H424.41" stroke="#404040" stroke-width="0.66"/><text x="425.93" y="262.2" font-size="6.6">0.9</text>
<line x1="393.3" y1="270.9" x2="411.5" y2="270.9" stroke="#7E2F8E" stroke-width="1.25"/>
<path d="M402.4 267.96L403.13 269.9L405.2 269.99L403.57 271.28L404.13 273.28L402.4 272.13L400.67 273.28L401.23 271.28L399.6 269.99L401.67 269.9Z" fill="#7E2F8E" stroke="#7E2F8E" stroke-width="0.5"/>
<text x="412.6" y="272.9" font-size="6.6">&#947;</text><text x="416.56" y="275.67" font-size="4.75">2</text><path d="M420.78 269.5H424.41M420.78 271.5H424.41" stroke="#404040" stroke-width="0.66"/><text x="425.93" y="272.9" font-size="6.6">1.0</text>
<rect x="541.5" y="218.5" width="135" height="44.3" fill="#fff" stroke="#8a8a8a" stroke-width="0.85"/>
<line x1="543.2" y1="224.1" x2="561.4" y2="224.1" stroke="#0072BD" stroke-width="1.25"/>
<circle cx="552.3" cy="224.1" r="1.85" fill="none" stroke="#0072BD" stroke-width="1.0"/>
<text x="562.8" y="226.1" font-size="6.6">&#947;</text><text x="566.76" y="228.87" font-size="4.75">2</text><path d="M570.98 222.5H574.61M570.98 224.5H574.61" stroke="#404040" stroke-width="0.66"/><text x="576.13" y="226.1" font-size="6.6">0.0</text>
<line x1="543.2" y1="234.9" x2="561.4" y2="234.9" stroke="#D95319" stroke-width="1.25"/>
<path d="M550.62 234.9H553.98M552.3 233.22V236.58" stroke="#D95319" stroke-width="1.0" fill="none"/>
<text x="562.8" y="236.9" font-size="6.6">&#947;</text><text x="566.76" y="239.67" font-size="4.75">2</text><path d="M570.98 233.5H574.61M570.98 235.5H574.61" stroke="#404040" stroke-width="0.66"/><text x="576.13" y="236.9" font-size="6.6">0.1</text>
<line x1="543.2" y1="245.7" x2="561.4" y2="245.7" stroke="#EDB120" stroke-width="1.25"/>
<circle cx="552.3" cy="245.7" r="1.78" fill="#EDB120"/>
<text x="562.8" y="247.7" font-size="6.6">&#947;</text><text x="566.76" y="250.47" font-size="4.75">2</text><path d="M570.98 244.5H574.61M570.98 246.5H574.61" stroke="#404040" stroke-width="0.66"/><text x="576.13" y="247.7" font-size="6.6">0.2</text>
<line x1="543.2" y1="256.5" x2="561.4" y2="256.5" stroke="#7E2F8E" stroke-width="1.25"/>
<rect x="550.87" y="255.07" width="2.86" height="2.86" fill="none" stroke="#7E2F8E" stroke-width="1.0"/>
<text x="562.8" y="258.5" font-size="6.6">&#947;</text><text x="566.76" y="261.27" font-size="4.75">2</text><path d="M570.98 255.5H574.61M570.98 257.5H574.61" stroke="#404040" stroke-width="0.66"/><text x="576.13" y="258.5" font-size="6.6">0.3</text>
<line x1="588.3" y1="224.1" x2="606.5" y2="224.1" stroke="#77AC30" stroke-width="1.25"/>
<path d="M597.4 221.79L599.08 224.1L597.4 226.41L595.72 224.1Z" fill="none" stroke="#77AC30" stroke-width="1.0"/>
<text x="607.9" y="226.1" font-size="6.6">&#947;</text><text x="611.86" y="228.87" font-size="4.75">2</text><path d="M616.08 222.5H619.71M616.08 224.5H619.71" stroke="#404040" stroke-width="0.66"/><text x="621.23" y="226.1" font-size="6.6">0.4</text>
<line x1="588.3" y1="234.9" x2="606.5" y2="234.9" stroke="#4DBEEE" stroke-width="1.25"/>
<path d="M595.82 233.33L598.98 236.47M595.82 236.47L598.98 233.33" stroke="#4DBEEE" stroke-width="1.0" fill="none"/>
<text x="607.9" y="236.9" font-size="6.6">&#947;</text><text x="611.86" y="239.67" font-size="4.75">2</text><path d="M616.08 233.5H619.71M616.08 235.5H619.71" stroke="#404040" stroke-width="0.66"/><text x="621.23" y="236.9" font-size="6.6">0.5</text>
<line x1="588.3" y1="245.7" x2="606.5" y2="245.7" stroke="#A2142F" stroke-width="1.25"/>
<path d="M594.99 243.77L599.81 243.77L597.4 248.11Z" fill="none" stroke="#A2142F" stroke-width="1.0"/>
<text x="607.9" y="247.7" font-size="6.6">&#947;</text><text x="611.86" y="250.47" font-size="4.75">2</text><path d="M616.08 244.5H619.71M616.08 246.5H619.71" stroke="#404040" stroke-width="0.66"/><text x="621.23" y="247.7" font-size="6.6">0.6</text>
<line x1="588.3" y1="256.5" x2="606.5" y2="256.5" stroke="#0072BD" stroke-width="1.25"/>
<path d="M594.99 258.43L599.81 258.43L597.4 254.09Z" fill="none" stroke="#0072BD" stroke-width="1.0"/>
<text x="607.9" y="258.5" font-size="6.6">&#947;</text><text x="611.86" y="261.27" font-size="4.75">2</text><path d="M616.08 255.5H619.71M616.08 257.5H619.71" stroke="#404040" stroke-width="0.66"/><text x="621.23" y="258.5" font-size="6.6">0.7</text>
<line x1="633.3" y1="224.1" x2="651.5" y2="224.1" stroke="#D95319" stroke-width="1.25"/>
<path d="M644.33 221.69L644.33 226.51L639.99 224.1Z" fill="none" stroke="#D95319" stroke-width="1.0"/>
<text x="652.9" y="226.1" font-size="6.6">&#947;</text><text x="656.86" y="228.87" font-size="4.75">2</text><path d="M661.08 222.5H664.71M661.08 224.5H664.71" stroke="#404040" stroke-width="0.66"/><text x="666.23" y="226.1" font-size="6.6">0.8</text>
<line x1="633.3" y1="234.9" x2="651.5" y2="234.9" stroke="#EDB120" stroke-width="1.25"/>
<path d="M640.47 232.49L640.47 237.31L644.81 234.9Z" fill="none" stroke="#EDB120" stroke-width="1.0"/>
<text x="652.9" y="236.9" font-size="6.6">&#947;</text><text x="656.86" y="239.67" font-size="4.75">2</text><path d="M661.08 233.5H664.71M661.08 235.5H664.71" stroke="#404040" stroke-width="0.66"/><text x="666.23" y="236.9" font-size="6.6">0.9</text>
<line x1="633.3" y1="245.7" x2="651.5" y2="245.7" stroke="#7E2F8E" stroke-width="1.25"/>
<path d="M642.4 242.76L643.13 244.7L645.2 244.79L643.57 246.08L644.13 248.08L642.4 246.93L640.67 248.08L641.23 246.08L639.6 244.79L641.67 244.7Z" fill="#7E2F8E" stroke="#7E2F8E" stroke-width="0.5"/>
<text x="652.9" y="247.7" font-size="6.6">&#947;</text><text x="656.86" y="250.47" font-size="4.75">2</text><path d="M661.08 244.5H664.71M661.08 246.5H664.71" stroke="#404040" stroke-width="0.66"/><text x="666.23" y="247.7" font-size="6.6">1.0</text>
<clipPath id="ica"><rect x="56.2" y="21.4" width="48.5" height="41.6"/></clipPath>
<rect x="56.2" y="21.4" width="48.5" height="41.6" fill="#fff"/>
<line x1="59" y1="21.4" x2="59" y2="63" stroke="#efefef" stroke-width="0.7"/>
<line x1="69.53" y1="21.4" x2="69.53" y2="63" stroke="#efefef" stroke-width="0.7"/>
<line x1="80.05" y1="21.4" x2="80.05" y2="63" stroke="#efefef" stroke-width="0.7"/>
<line x1="90.57" y1="21.4" x2="90.57" y2="63" stroke="#efefef" stroke-width="0.7"/>
<line x1="101.1" y1="21.4" x2="101.1" y2="63" stroke="#efefef" stroke-width="0.7"/>
<line x1="56.2" y1="62.75" x2="104.7" y2="62.75" stroke="#efefef" stroke-width="0.7"/>
<line x1="56.2" y1="46.5" x2="104.7" y2="46.5" stroke="#efefef" stroke-width="0.7"/>
<line x1="56.2" y1="30.25" x2="104.7" y2="30.25" stroke="#efefef" stroke-width="0.7"/>
<g clip-path="url(#ica)">
<path d="M53 62.1L54.1 60.5L56.3 58.9L57.3 57.9L60.9 50.5L62.1 48.7L62.8 48.3L63.6 48.3L64.7 48.7L66.1 49.5L68 50.9L69 52L74.7 62.3L84.9 74.9L96.7 88.5L102.4 94.4L107.9 99.7" fill="none" stroke="#0072BD" stroke-width="1.2"/>
<path d="M53 60L54.1 58L56.3 56.2L57.3 55L60.7 48.3L62.1 46.3L62.8 45.8L63.6 45.7L64.7 46.1L66.1 46.8L68.3 48.5L69.5 49.9L71.2 52.5L76.3 61.7L83.4 70.5L89.9 78L96 84.7L102.1 90.8L107.9 96.3" fill="none" stroke="#D95319" stroke-width="1.2"/>
<path d="M53 57.8L53.6 56.4L54.3 55.4L56.5 53.3L57.3 52.2L60.7 45.8L62.1 43.8L62.9 43.3L63.6 43.2L64.7 43.5L66 44.1L68.6 46L70.4 48L72.3 51L77.9 60.7L82.3 66.1L89.2 73.9L95.6 80.8L101.8 87L107.9 92.6" fill="none" stroke="#EDB120" stroke-width="1.2"/>
<path d="M53 55.6L54.1 53.1L57.2 49.6L60.6 43.5L62 41.5L62.8 40.9L63.5 40.7L64.6 40.8L66 41.5L68.8 43.6L70.9 45.9L73.1 49.3L79.1 59.8L80.8 62.1L82.9 64.5L88.8 70.9L94.9 77L101.3 82.8L107.9 88.4" fill="none" stroke="#7E2F8E" stroke-width="1.2"/>
<path d="M53 53.4L53.6 51.8L54.4 50.2L57 47L60.5 41.1L61.8 39.2L62.8 38.4L63.6 38.1L64.7 38.3L66 38.9L69.3 41.2L71.7 44L74.3 47.9L80.7 58.4L83.8 62.6L89.4 68.5L95.4 74.2L101.4 79.6L107.9 84.9" fill="none" stroke="#77AC30" stroke-width="1.2"/>
<path d="M53 51.2L53.7 49.1L54.6 47.4L57 44.1L60.2 39L61.6 37.1L62.7 36L63.6 35.6L64.7 35.7L66 36.3L69.7 38.9L72.6 42L75.6 46.3L82.9 57.8L86.4 62.4L91.5 67.5L96.9 72.5L102.2 77.1L107.9 81.7" fill="none" stroke="#4DBEEE" stroke-width="1.2"/>
<path d="M53 49L53.9 46.4L54.8 44.4L61.3 34.9L62.4 33.8L63.5 33.1L64.6 33.1L66 33.6L70.1 36.5L73.4 40.1L76.7 44.6L84.8 56.9L88.8 62L97.8 70.4L107.9 78.5" fill="none" stroke="#A2142F" stroke-width="1.2"/>
<path d="M53 46.9L53.9 44L55 41.5L61 32.7L62.2 31.4L63.5 30.7L64.7 30.6L66.1 31.1L70.5 34.2L74.2 38L77.9 43L86.8 56L91.2 61.4L98.9 68.3L107.9 75.3" fill="none" stroke="#0072BD" stroke-width="1.2"/>
<path d="M53 44.7L54 41.2L55.1 38.7L60.5 30.8L62 29.1L63.3 28.2L64.6 28L66.1 28.5L70.9 31.8L75 36L79.1 41.3L88.9 55L93.7 60.8L95.6 62.7L99.9 66.2L107.9 72.2" fill="none" stroke="#D95319" stroke-width="1.2"/>
<path d="M53 42.5L54 38.8L55.2 35.7L56.5 33.7L59.9 28.8L61.7 26.9L63.2 25.8L64.6 25.5L66.1 25.9L71.3 29.4L73.5 31.4L76 34L80.7 39.7L91.4 54L96.5 59.8L100.6 63.5L107.9 68.8" fill="none" stroke="#EDB120" stroke-width="1.2"/>
<path d="M53 40.3L54 36.4L55.2 33L56.5 30.9L59.2 27L61.3 24.7L63.1 23.4L64.6 22.9L66.2 23.3L71.3 26.7L75.7 30.7L81.1 36.6L92.3 50.9L97.3 56.7L102.2 61.5L107.9 65.6" fill="none" stroke="#7E2F8E" stroke-width="1.2"/>
</g>
<rect x="56.2" y="21.4" width="48.5" height="41.6" fill="none" stroke="#9a9a9a" stroke-width="1"/>
<path d="M59 63v-1.3M59 21.4v1.3M69.53 63v-1.3M69.53 21.4v1.3M80.05 63v-1.3M80.05 21.4v1.3M90.57 63v-1.3M90.57 21.4v1.3M101.1 63v-1.3M101.1 21.4v1.3M56.2 62.75h1.3M104.7 62.75h-1.3M56.2 46.5h1.3M104.7 46.5h-1.3M56.2 30.25h1.3M104.7 30.25h-1.3" stroke="#9a9a9a" stroke-width="0.8" fill="none"/>
<text x="59" y="70.6" font-size="6.3" text-anchor="middle">1</text>
<text x="69.53" y="70.6" font-size="6.3" text-anchor="middle">2</text>
<text x="80.05" y="70.6" font-size="6.3" text-anchor="middle">3</text>
<text x="90.57" y="70.6" font-size="6.3" text-anchor="middle">4</text>
<text x="101.1" y="70.6" font-size="6.3" text-anchor="middle">5</text>
<text x="54.2" y="64.95" font-size="6.3" text-anchor="end">0.34</text>
<text x="54.2" y="48.7" font-size="6.3" text-anchor="end">0.38</text>
<text x="54.2" y="32.45" font-size="6.3" text-anchor="end">0.42</text>
<clipPath id="icb"><rect x="297.3" y="23.6" width="44.3" height="40.7"/></clipPath>
<rect x="297.3" y="23.6" width="44.3" height="40.7" fill="#fff"/>
<line x1="315.3" y1="23.6" x2="315.3" y2="64.3" stroke="#efefef" stroke-width="0.7"/>
<line x1="334.6" y1="23.6" x2="334.6" y2="64.3" stroke="#efefef" stroke-width="0.7"/>
<line x1="297.3" y1="61.5" x2="341.6" y2="61.5" stroke="#efefef" stroke-width="0.7"/>
<line x1="297.3" y1="46.55" x2="341.6" y2="46.55" stroke="#efefef" stroke-width="0.7"/>
<line x1="297.3" y1="31.6" x2="341.6" y2="31.6" stroke="#efefef" stroke-width="0.7"/>
<g clip-path="url(#icb)">
<path d="M296 -5.8L297.8 17.8L298.4 23.1L299.3 27L300.1 29.7L301.2 31.8L302.7 33.8L303.3 34.4L303.9 34.6L304.6 34.5L305.5 34.1L306.9 32.8L310.8 28.6L316.2 25L318.4 24.3L320.8 24.6L322.5 25.3L324.6 26.5L330.8 31L333.7 34.1L340.2 42L344.5 46.2" fill="none" stroke="#0072BD" stroke-width="1.2"/>
<path d="M296 -5.8L297.8 17.6L298.6 23.9L299.4 28.4L300.4 32L301.7 34.9L302.9 36.7L303.5 37.3L304 37.4L304.8 37.3L305.6 36.9L307.1 35.5L310.8 31.1L316.1 27.3L318.4 26.4L320.7 26.6L322.5 27.3L324.4 28.3L330.8 32.6L333.7 35.5L340.4 43L344.5 46.9" fill="none" stroke="#D95319" stroke-width="1.2"/>
<path d="M296 -5.8L297.8 17.4L298.9 26.4L299.8 31.2L300.5 34.1L302 37.7L303.2 39.7L303.8 40.2L304.3 40.3L305 40.1L305.8 39.5L307.2 38.2L310.9 33.5L315.9 29.6L318.2 28.6L320.4 28.6L322.3 29.2L324.3 30.1L330.9 34.3L333.8 37L340.5 43.9L344.5 47.6" fill="none" stroke="#EDB120" stroke-width="1.2"/>
<path d="M296 -5.8L297.9 18.6L299.4 30.2L300.7 36.8L302.2 40.6L303.4 42.6L303.9 43L304.5 43.1L306 42.3L307.3 40.8L310.9 36.1L315.8 32L318.1 30.8L319.1 30.6L320.3 30.7L322.1 31.1L324.3 32.1L330.9 35.9L333.6 38.1L340.1 44.5L344.5 48.3" fill="none" stroke="#7E2F8E" stroke-width="1.2"/>
<path d="M296 -5.8L298.1 19.7L299.8 33.7L300.9 39.2L302.3 43.3L303.5 45.5L304 45.9L304.6 45.9L306.1 45L307.4 43.5L311.1 38.5L315.8 34.3L318.1 33L320.1 32.8L322 33.1L324.1 33.9L330.9 37.5L333.8 39.7L340.2 45.5L344.5 48.9" fill="none" stroke="#77AC30" stroke-width="1.2"/>
<path d="M296 -5.8L297.9 18.3L300 36.7L300.6 40.2L301.6 43.6L302.7 46.7L303.7 48.4L304.1 48.7L304.8 48.7L306.2 47.8L307.4 46.3L311.2 40.9L315.7 36.7L317.9 35.3L318.8 34.9L319.8 34.9L321.8 35.1L324.1 35.8L331 39.2L334.2 41.4L344.5 49.6" fill="none" stroke="#4DBEEE" stroke-width="1.2"/>
<path d="M296 -5.8L297.9 18.2L300.1 39L300.7 42.7L301.8 46.7L302.8 49.5L303.8 51.2L304.1 51.5L304.6 51.6L306 50.8L307.3 49.3L310.5 44.4L311.8 42.8L316.7 38.2L318.2 37.3L319.6 37L321.5 37.1L323.8 37.7L331 40.8L334.5 43L344.5 50.3" fill="none" stroke="#A2142F" stroke-width="1.2"/>
<path d="M296 -5.8L297.7 15.5L300.3 41.5L300.7 44.6L302 49.4L302.9 52.3L303.8 54L304.3 54.4L304.8 54.4L306.1 53.6L307.4 52L310.6 46.9L311.9 45.2L316.8 40.4L318.2 39.5L319.6 39.1L321.6 39.2L324 39.8L331.2 42.6L335.1 44.8L344.5 50.9" fill="none" stroke="#0072BD" stroke-width="1.2"/>
<path d="M296 -5.8L297.3 11.3L300.4 44.2L300.9 47.1L302.2 52.6L303 55.2L303.9 56.8L304.4 57.2L304.9 57.2L306.2 56.3L307.5 54.6L310.6 49.5L311.9 47.7L316.8 42.7L318.2 41.7L319.6 41.2L321.5 41.3L324 41.8L331.4 44.2L335.9 46.5L344.5 51.6" fill="none" stroke="#D95319" stroke-width="1.2"/>
<path d="M296 -5.8L300.4 45.9L300.9 49.1L302.2 55L303.2 58.1L304 59.7L304.4 60L304.9 60.1L306.2 59.2L307.5 57.5L310.7 52L312 50.1L316.9 44.9L318.4 43.9L319.7 43.4L321.6 43.4L324.1 43.8L331.7 46L337 48.3L344.5 52.3" fill="none" stroke="#EDB120" stroke-width="1.2"/>
<path d="M296 -5.8L300.5 48.7L301.2 53L302.4 58.3L303.3 61L304.1 62.6L304.6 62.9L305.1 62.8L306.3 62L307.7 60.1L310.8 54.4L312.2 52.5L317 47.1L318.5 46L319.7 45.5L321.5 45.5L324.1 45.8L332 47.7L338.1 49.9L344.5 52.9" fill="none" stroke="#7E2F8E" stroke-width="1.2"/>
<circle cx="296" cy="-5.77" r="1.85" fill="none" stroke="#0072BD" stroke-width="1.0"/>
<path d="M294.32 -5.77H297.68M296 -7.45V-4.09" stroke="#D95319" stroke-width="1.0" fill="none"/>
<circle cx="296" cy="-5.77" r="1.78" fill="#EDB120"/>
<rect x="294.57" y="-7.2" width="2.86" height="2.86" fill="none" stroke="#7E2F8E" stroke-width="1.0"/>
<path d="M296 -8.08L297.68 -5.77L296 -3.46L294.32 -5.77Z" fill="none" stroke="#77AC30" stroke-width="1.0"/>
<path d="M294.43 -7.35L297.57 -4.2M294.43 -4.2L297.57 -7.35" stroke="#4DBEEE" stroke-width="1.0" fill="none"/>
<path d="M293.58 -7.71L298.42 -7.71L296 -3.36Z" fill="none" stroke="#A2142F" stroke-width="1.0"/>
<path d="M293.58 -3.84L298.42 -3.84L296 -8.19Z" fill="none" stroke="#0072BD" stroke-width="1.0"/>
<path d="M297.93 -8.19L297.93 -3.36L293.58 -5.77Z" fill="none" stroke="#D95319" stroke-width="1.0"/>
<path d="M294.07 -8.19L294.07 -3.36L298.42 -5.77Z" fill="none" stroke="#EDB120" stroke-width="1.0"/>
<path d="M296 -8.71L296.73 -6.77L298.8 -6.68L297.17 -5.39L297.73 -3.4L296 -4.54L294.27 -3.4L294.83 -5.39L293.2 -6.68L295.27 -6.77Z" fill="#7E2F8E" stroke="#7E2F8E" stroke-width="0.5"/>
</g>
<rect x="297.3" y="23.6" width="44.3" height="40.7" fill="none" stroke="#9a9a9a" stroke-width="1"/>
<path d="M315.3 64.3v-1.3M315.3 23.6v1.3M334.6 64.3v-1.3M334.6 23.6v1.3M297.3 61.5h1.3M341.6 61.5h-1.3M297.3 46.55h1.3M341.6 46.55h-1.3M297.3 31.6h1.3M341.6 31.6h-1.3" stroke="#9a9a9a" stroke-width="0.8" fill="none"/>
<text x="315.3" y="71.9" font-size="6.3" text-anchor="middle">2</text>
<text x="334.6" y="71.9" font-size="6.3" text-anchor="middle">4</text>
<text x="295.3" y="63.7" font-size="6.3" text-anchor="end">0.21</text>
<text x="295.3" y="48.75" font-size="6.3" text-anchor="end">0.23</text>
<text x="295.3" y="33.8" font-size="6.3" text-anchor="end">0.25</text>
<clipPath id="icc"><rect x="527.1" y="20.3" width="51.6" height="51.2"/></clipPath>
<rect x="527.1" y="20.3" width="51.6" height="51.2" fill="#fff"/>
<line x1="530.4" y1="20.3" x2="530.4" y2="71.5" stroke="#efefef" stroke-width="0.7"/>
<line x1="546.95" y1="20.3" x2="546.95" y2="71.5" stroke="#efefef" stroke-width="0.7"/>
<line x1="563.5" y1="20.3" x2="563.5" y2="71.5" stroke="#efefef" stroke-width="0.7"/>
<line x1="527.1" y1="71.8" x2="578.7" y2="71.8" stroke="#efefef" stroke-width="0.7"/>
<line x1="527.1" y1="54.9" x2="578.7" y2="54.9" stroke="#efefef" stroke-width="0.7"/>
<line x1="527.1" y1="38" x2="578.7" y2="38" stroke="#efefef" stroke-width="0.7"/>
<g clip-path="url(#icc)">
<path d="M522.1 98.6L523.8 87.5L525.7 77.8L528.6 65.8L530.9 57.9L532.6 54L535.9 49.3L536.9 48.3L537.9 47.9L538.8 47.8L539.7 48.2L541.4 49.5L543.6 52.2L547.7 58.1L550.4 62.7L564.1 90.5L583.7 132.8" fill="none" stroke="#0072BD" stroke-width="1.2"/>
<path d="M522.1 98.6L523.8 87.5L525.7 77.9L529.2 63.1L531.4 55.6L532.9 51.9L534.9 48.7L536.3 46.8L537.2 45.9L538.2 45.4L539.1 45.3L540.2 45.6L542.3 47.1L544.8 50L549.6 56.5L553 62.3L560.5 77L565.8 87.7L583.7 126.8" fill="none" stroke="#D95319" stroke-width="1.2"/>
<path d="M522.1 98.6L523.7 88.4L525.5 78.7L529.5 61.4L531.7 53.6L533.1 50.2L535.1 46.7L536.6 44.5L537.7 43.4L538.6 42.8L539.4 42.7L540.5 42.9L542.6 44.3L545.1 47L550.8 54.6L553.9 59.7L566.9 85L583.7 120.7" fill="none" stroke="#EDB120" stroke-width="1.2"/>
<path d="M522.1 98.6L523.7 88.4L525.4 79.5L529.7 60.3L531.9 52.1L533.4 48.1L536.8 42.4L537.9 41.1L538.8 40.4L539.6 40.2L540.6 40.3L541.7 40.7L543 41.5L545.6 44.1L552.1 52.6L555 57.3L568.1 82.3L583.7 114.9" fill="none" stroke="#7E2F8E" stroke-width="1.2"/>
<path d="M522.1 98.6L523.5 89.4L525.2 80.3L530.2 57.9L532.2 50.2L533.5 46.4L537.1 40.1L538.2 38.8L539.1 38L540 37.6L540.9 37.7L542.2 38.1L543.4 38.8L546.2 41.5L553.3 50.8L556.1 55L559.1 60.6L569.5 80.4L583.7 109.3" fill="none" stroke="#77AC30" stroke-width="1.2"/>
<path d="M522.1 98.6L523.5 89.4L525.1 81.1L530.5 56L532.5 48.1L533.9 44.4L537.4 37.8L538.5 36.4L539.4 35.5L540.2 35.1L541.1 35.1L542.3 35.4L543.6 36L545 37.1L546.5 38.7L549.6 42.5L554.5 49.3L556.4 52.1L559.6 57.8L571.2 80L583.7 104.5" fill="none" stroke="#4DBEEE" stroke-width="1.2"/>
<path d="M522.1 98.6L523.4 90.3L524.8 82.7L530.6 54.8L532.6 46.6L534 42.6L537.4 36L539.4 33.4L540.3 32.7L541.3 32.5L542.5 32.7L543.9 33.3L545.4 34.5L547 36L550 39.8L557.1 49.8L560.5 55.7L567.5 69.3L583.7 99.8" fill="none" stroke="#A2142F" stroke-width="1.2"/>
<path d="M522.1 98.6L523.4 90.3L524.8 82.7L530.9 52.9L532.9 44.6L534.3 40.6L537.7 33.8L539.7 31L540.6 30.3L541.6 29.9L543 30.1L544.3 30.7L545.9 31.8L547.6 33.5L550.7 37.2L557.9 47.4L561.8 54.1L570.1 70.5L583.7 95.2" fill="none" stroke="#0072BD" stroke-width="1.2"/>
<path d="M522.1 98.6L523.4 90.3L524.6 83.5L531.2 50.9L533.2 42.5L534.6 38.5L538.2 31.3L540.2 28.5L541.1 27.7L542 27.4L543.4 27.6L545 28.2L546.7 29.4L548.4 31L551.7 35.2L559.1 45.5L563.2 52.4L572.3 70.3L583.7 90.5" fill="none" stroke="#D95319" stroke-width="1.2"/>
<path d="M522.1 98.6L524.4 84.3L527.5 69.6L531.4 49.7L533.4 41L534.8 36.8L538.3 29.3L540.5 26.1L541.4 25.3L542.3 24.9L543.9 25L545.4 25.6L547.1 26.7L549 28.4L552.5 32.6L560.2 43.3L564.5 50.5L574.6 70L583.7 85.4" fill="none" stroke="#EDB120" stroke-width="1.2"/>
<path d="M522.1 98.6L524.3 85.1L527.5 69.6L531.7 47.7L533.7 38.9L535.1 34.7L538.6 27L540.8 23.7L541.7 22.8L542.6 22.4L544.2 22.4L546 23.1L547.9 24.3L549.7 25.9L553.6 30.4L561.8 41.5L563.9 44.8L566.4 49.1L576.7 68.9L583.7 80.3" fill="none" stroke="#7E2F8E" stroke-width="1.2"/>
</g>
<rect x="527.1" y="20.3" width="51.6" height="51.2" fill="none" stroke="#9a9a9a" stroke-width="1"/>
<path d="M530.4 71.5v-1.3M530.4 20.3v1.3M546.95 71.5v-1.3M546.95 20.3v1.3M563.5 71.5v-1.3M563.5 20.3v1.3M527.1 71.8h1.3M578.7 71.8h-1.3M527.1 54.9h1.3M578.7 54.9h-1.3M527.1 38h1.3M578.7 38h-1.3" stroke="#9a9a9a" stroke-width="0.8" fill="none"/>
<text x="530.4" y="79.1" font-size="6.3" text-anchor="middle">1</text>
<text x="546.95" y="79.1" font-size="6.3" text-anchor="middle">2</text>
<text x="563.5" y="79.1" font-size="6.3" text-anchor="middle">3</text>
<text x="525.1" y="74" font-size="6.3" text-anchor="end">0.6</text>
<text x="525.1" y="57.1" font-size="6.3" text-anchor="end">0.62</text>
<text x="525.1" y="40.2" font-size="6.3" text-anchor="end">0.64</text>
<clipPath id="ice"><rect x="282.2" y="222.4" width="61" height="55.5"/></clipPath>
<rect x="282.2" y="222.4" width="61" height="55.5" fill="#fff"/>
<line x1="296.7" y1="222.4" x2="296.7" y2="277.9" stroke="#efefef" stroke-width="0.7"/>
<line x1="312.25" y1="222.4" x2="312.25" y2="277.9" stroke="#efefef" stroke-width="0.7"/>
<line x1="327.8" y1="222.4" x2="327.8" y2="277.9" stroke="#efefef" stroke-width="0.7"/>
<line x1="282.2" y1="270.5" x2="343.2" y2="270.5" stroke="#efefef" stroke-width="0.7"/>
<line x1="282.2" y1="256.4" x2="343.2" y2="256.4" stroke="#efefef" stroke-width="0.7"/>
<line x1="282.2" y1="242.3" x2="343.2" y2="242.3" stroke="#efefef" stroke-width="0.7"/>
<line x1="282.2" y1="228.2" x2="343.2" y2="228.2" stroke="#efefef" stroke-width="0.7"/>
<g clip-path="url(#ice)">
<path d="M281.1 214.1L281.8 221.7L282.1 223L282.9 225.4L283.9 227.5L284.9 228.8L285.8 229.6L288.2 229.9L289.5 229.6L291 228.7L294.2 225.7L295.8 224.8L302.3 224.3L304.1 224.3L305.5 224.6L308.3 225.6L313.3 228.2L316 230.1L322.8 235.4L326.2 237.6L331.3 240L345.5 245.5" fill="none" stroke="#0072BD" stroke-width="1.2"/>
<path d="M281.1 214.1L281.8 221.6L282.1 223.1L283.9 227.9L284.9 229.4L285.8 230.2L287 230.3L289.4 230L294.1 227.8L295.7 227.3L302.3 227L305.4 227.2L307.6 227.9L313.4 230.3L322.9 235.3L326.5 236.9L332.5 239.2L345.5 243.6" fill="none" stroke="#D95319" stroke-width="1.2"/>
<path d="M281.1 214.1L281.8 221.6L282.3 223.7L284.1 228.6L284.9 230L285.8 230.8L286.8 230.9L288.6 230L293.7 229.4L303.7 229.3L306.3 229.6L313.7 231.6L323.6 236L327.6 237.4L335.5 239.8L345.5 242.4" fill="none" stroke="#EDB120" stroke-width="1.2"/>
<path d="M281.1 214.1L281.8 221.6L282.4 224.4L284.2 229.4L285.2 230.9L286 231.5L290 231.6L295.7 232.3L304.9 232.9L307.6 233.6L325.7 239L333.3 240.5L345.5 242.5" fill="none" stroke="#7E2F8E" stroke-width="1.2"/>
<path d="M281.1 214.1L281.8 221.6L282.8 225.6L283.6 228L284.5 230.2L285.5 231.5L286.6 232.4L294.1 234.5L309.9 237.3L325.7 241.2L334.9 242.8L345.5 244.3" fill="none" stroke="#77AC30" stroke-width="1.2"/>
<path d="M281.1 214.1L281.8 221.6L283.1 226.9L283.9 229.2L284.9 231.1L285.8 232.4L287 233.2L290.8 234.6L323.3 244.2L333.1 246L345.5 247.6" fill="none" stroke="#4DBEEE" stroke-width="1.2"/>
<path d="M281.1 214.1L281.8 221.5L282.6 225.4L284.4 231L285.2 232.5L286 233.4L288.7 233.9L290 234.4L296 238.8L307.5 244.7L310.8 246.2L318.7 249.1L323.6 250.6L328.1 251.4L335.2 252.3L345.5 253.3" fill="none" stroke="#A2142F" stroke-width="1.2"/>
<path d="M281.1 214.1L281.8 221.5L282.3 224.1L283.7 229.5L284.5 231.7L285.3 233.2L286.3 234.2L288.6 234.9L290 235.9L295.8 241.9L302.6 247.4L307.1 250.4L310.5 252.3L316.3 254.8L321.5 256.7L325.8 257.8L333.1 259.2L339.2 260.1L345.5 260.7" fill="none" stroke="#0072BD" stroke-width="1.2"/>
<path d="M281.1 214.1L281.8 221.5L282.4 224.9L283.9 230.2L285.5 233.8L286.6 235L288.4 236L289.7 237.2L295.2 244.1L297.1 246.2L301.8 250.9L307.8 256.3L310.7 258.5L315.4 261.1L319.7 263.3L323.6 264.7L327.3 265.7L332.8 266.7L345.5 268.2" fill="none" stroke="#D95319" stroke-width="1.2"/>
<path d="M281.1 214.1L281.8 221.5L282.4 224.9L283.7 229.8L285.3 233.8L286.6 235.8L288.4 237.5L289.7 239.2L294.9 247.8L297.4 251.4L301.6 256.6L306.3 261.4L309.7 264.4L313.4 266.9L318.4 269.8L323.1 271.9L327.5 273.3L333.9 274.9L339.6 275.9L345.5 276.6" fill="none" stroke="#EDB120" stroke-width="1.2"/>
<path d="M281.1 214.1L281.8 221.5L282.9 227L284.4 231.5L287.8 239.1L293.1 249.7L296.8 256L301.8 263.1L307 269.7L310 273.4L312.8 276.2L314.4 277.5L317.8 279.3L322.3 281L329.1 283.2L333.3 284.3L337.1 284.7L345.5 285.4" fill="none" stroke="#7E2F8E" stroke-width="1.2"/>
<circle cx="281.15" cy="214.1" r="1.85" fill="none" stroke="#0072BD" stroke-width="1.0"/>
<circle cx="330.13" cy="239.45" r="1.85" fill="none" stroke="#0072BD" stroke-width="1.0"/>
<path d="M279.47 214.1H282.83M281.15 212.42V215.78" stroke="#D95319" stroke-width="1.0" fill="none"/>
<path d="M328.45 238.35H331.81M330.13 236.67V240.03" stroke="#D95319" stroke-width="1.0" fill="none"/>
<circle cx="281.15" cy="214.1" r="1.78" fill="#EDB120"/>
<circle cx="330.13" cy="238.22" r="1.78" fill="#EDB120"/>
<rect x="279.72" y="212.67" width="2.86" height="2.86" fill="none" stroke="#7E2F8E" stroke-width="1.0"/>
<rect x="326.37" y="238.04" width="2.86" height="2.86" fill="none" stroke="#7E2F8E" stroke-width="1.0"/>
<path d="M281.15 211.79L282.83 214.1L281.15 216.41L279.47 214.1Z" fill="none" stroke="#77AC30" stroke-width="1.0"/>
<path d="M327.8 239.31L329.48 241.62L327.8 243.93L326.12 241.62Z" fill="none" stroke="#77AC30" stroke-width="1.0"/>
<path d="M279.57 212.53L282.72 215.67M279.57 215.67L282.72 212.53" stroke="#4DBEEE" stroke-width="1.0" fill="none"/>
<path d="M325.45 243.4L328.6 246.55M325.45 246.55L328.6 243.4" stroke="#4DBEEE" stroke-width="1.0" fill="none"/>
<path d="M278.73 212.17L283.56 212.17L281.15 216.51Z" fill="none" stroke="#A2142F" stroke-width="1.0"/>
<path d="M324.61 249.31L329.44 249.31L327.02 253.66Z" fill="none" stroke="#A2142F" stroke-width="1.0"/>
<path d="M278.73 216.03L283.56 216.03L281.15 211.69Z" fill="none" stroke="#0072BD" stroke-width="1.0"/>
<path d="M324.61 260.01L329.44 260.01L327.02 255.66Z" fill="none" stroke="#0072BD" stroke-width="1.0"/>
<path d="M283.08 211.69L283.08 216.51L278.73 214.1Z" fill="none" stroke="#D95319" stroke-width="1.0"/>
<path d="M328.18 263.03L328.18 267.86L323.83 265.44Z" fill="none" stroke="#D95319" stroke-width="1.0"/>
<path d="M279.22 211.69L279.22 216.51L283.56 214.1Z" fill="none" stroke="#EDB120" stroke-width="1.0"/>
<path d="M322.76 270.1L322.76 274.93L327.11 272.52Z" fill="none" stroke="#EDB120" stroke-width="1.0"/>
<path d="M281.15 211.16L281.88 213.1L283.95 213.19L282.32 214.48L282.88 216.48L281.15 215.33L279.42 216.48L279.98 214.48L278.35 213.19L280.42 213.1Z" fill="#7E2F8E" stroke="#7E2F8E" stroke-width="0.5"/>
<path d="M321.58 277.81L322.31 279.75L324.38 279.84L322.75 281.13L323.31 283.13L321.58 281.98L319.85 283.13L320.41 281.13L318.78 279.84L320.85 279.75Z" fill="#7E2F8E" stroke="#7E2F8E" stroke-width="0.5"/>
</g>
<rect x="282.2" y="222.4" width="61" height="55.5" fill="none" stroke="#9a9a9a" stroke-width="1"/>
<path d="M296.7 277.9v-1.3M296.7 222.4v1.3M312.25 277.9v-1.3M312.25 222.4v1.3M327.8 277.9v-1.3M327.8 222.4v1.3M282.2 270.5h1.3M343.2 270.5h-1.3M282.2 256.4h1.3M343.2 256.4h-1.3M282.2 242.3h1.3M343.2 242.3h-1.3M282.2 228.2h1.3M343.2 228.2h-1.3" stroke="#9a9a9a" stroke-width="0.8" fill="none"/>
<text x="296.7" y="285.5" font-size="6.3" text-anchor="middle">2</text>
<text x="312.25" y="285.5" font-size="6.3" text-anchor="middle">4</text>
<text x="327.8" y="285.5" font-size="6.3" text-anchor="middle">6</text>
<text x="280.2" y="272.7" font-size="6.3" text-anchor="end">0.1</text>
<text x="280.2" y="258.6" font-size="6.3" text-anchor="end">0.15</text>
<text x="280.2" y="244.5" font-size="6.3" text-anchor="end">0.2</text>
<text x="280.2" y="230.4" font-size="6.3" text-anchor="end">0.25</text>
</svg>
</body></html>
